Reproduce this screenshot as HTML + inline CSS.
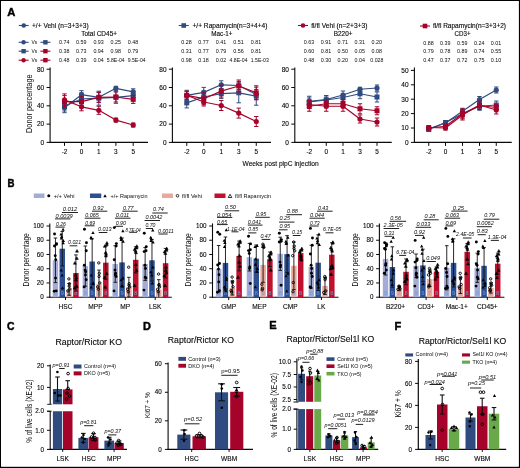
<!DOCTYPE html>
<html><head><meta charset="utf-8"><style>
html,body{margin:0;padding:0;background:#fff;overflow:hidden;width:520px;height:468px;}
svg{display:block;will-change:transform;}
text{font-family:"Liberation Sans", sans-serif;stroke-width:0.12px;}
</style></head><body>
<svg width="520" height="468" viewBox="0 0 520 468" font-family='"Liberation Sans", sans-serif' fill="#0a0a0a">
<rect x="0" y="0" width="520" height="468" fill="#fff"/>
<rect x="0" y="0" width="520" height="1" fill="#000" />
<rect x="0" y="0" width="1" height="468" fill="#000" />
<rect x="518.9" y="0" width="1.1" height="468" fill="#000" />
<rect x="0" y="466.8" width="520" height="1.2" fill="#000" />
<text x="7.3" y="16.2" font-size="11.5" textLength="8.1" lengthAdjust="spacingAndGlyphs" font-weight="bold" fill="#000" stroke="#000" style="stroke-width:0.45px">A</text>
<text x="7.5" y="187" font-size="11.5" textLength="7" lengthAdjust="spacingAndGlyphs" font-weight="bold" fill="#000" stroke="#000" style="stroke-width:0.45px">B</text>
<text x="7" y="329.5" font-size="11.5" textLength="7.5" lengthAdjust="spacingAndGlyphs" font-weight="bold" fill="#000" stroke="#000" style="stroke-width:0.45px">C</text>
<text x="143" y="329.8" font-size="11.5" textLength="7.9" lengthAdjust="spacingAndGlyphs" font-weight="bold" fill="#000" stroke="#000" style="stroke-width:0.45px">D</text>
<text x="269.2" y="329.3" font-size="11.5" textLength="7.4" lengthAdjust="spacingAndGlyphs" font-weight="bold" fill="#000" stroke="#000" style="stroke-width:0.45px">E</text>
<text x="394.5" y="329.5" font-size="11.5" textLength="6.75" lengthAdjust="spacingAndGlyphs" font-weight="bold" fill="#000" stroke="#000" style="stroke-width:0.45px">F</text>
<line x1="18.75" y1="25.5" x2="28.75" y2="25.5" stroke="#2f4b80" stroke-width="1.1" />
<circle cx="23.75" cy="25.5" r="2.3" fill="#2f4b80" stroke="none" stroke-width="0"/>
<text x="32" y="27.6" font-size="6.3" textLength="56.75" lengthAdjust="spacingAndGlyphs" stroke="#0a0a0a" >+/+ Vehi (n=3+3+3)</text>
<line x1="178.75" y1="25.5" x2="188.75" y2="25.5" stroke="#2f4b80" stroke-width="1.1" />
<rect x="181.45" y="23.2" width="4.6" height="4.6" fill="#2f4b80" />
<text x="192.5" y="27.6" font-size="6.3" textLength="75" lengthAdjust="spacingAndGlyphs" stroke="#0a0a0a" >+/+ Rapamycin(n=3+4+4)</text>
<line x1="298" y1="25.5" x2="308" y2="25.5" stroke="#a6032b" stroke-width="1.1" />
<circle cx="303" cy="25.5" r="2.3" fill="#a6032b" stroke="none" stroke-width="0"/>
<text x="311.25" y="27.6" font-size="6.3" textLength="56.25" lengthAdjust="spacingAndGlyphs" stroke="#0a0a0a" >fl/fl Vehi (n=2+3+3)</text>
<line x1="420" y1="26" x2="430" y2="26" stroke="#a6032b" stroke-width="1.1" />
<rect x="422.7" y="23.7" width="4.6" height="4.6" fill="#a6032b" />
<text x="433" y="28.1" font-size="6.3" textLength="73" lengthAdjust="spacingAndGlyphs" stroke="#0a0a0a" >fl/fl Rapamycin(n=3+3+2)</text>
<text x="81.25" y="35.5" font-size="6.3" textLength="35.75" lengthAdjust="spacingAndGlyphs" stroke="#0a0a0a" >Total CD45+</text>
<text x="211.25" y="35.5" font-size="6.3" textLength="21.25" lengthAdjust="spacingAndGlyphs" stroke="#0a0a0a" >Mac-1+</text>
<text x="333.75" y="35.5" font-size="6.3" textLength="18.75" lengthAdjust="spacingAndGlyphs" stroke="#0a0a0a" >B220+</text>
<text x="454.5" y="35.5" font-size="6.3" textLength="16" lengthAdjust="spacingAndGlyphs" stroke="#0a0a0a" >CD3+</text>
<line x1="18.6" y1="42.3" x2="28.6" y2="42.3" stroke="#2f4b80" stroke-width="1.1" />
<circle cx="23.6" cy="42.3" r="2.2" fill="#2f4b80" stroke="none" stroke-width="0"/>
<text x="31.5" y="44.3" font-size="6" textLength="5.8" lengthAdjust="spacingAndGlyphs" >Vs</text>
<line x1="40.4" y1="42.3" x2="50.4" y2="42.3" stroke="#2f4b80" stroke-width="1.1" />
<rect x="43.2" y="40.1" width="4.4" height="4.4" fill="#2f4b80" />
<line x1="18.6" y1="51.2" x2="28.6" y2="51.2" stroke="#2f4b80" stroke-width="1.1" />
<rect x="21.4" y="49" width="4.4" height="4.4" fill="#2f4b80" />
<text x="31.5" y="53.2" font-size="6" textLength="5.8" lengthAdjust="spacingAndGlyphs" >Vs</text>
<line x1="40.4" y1="51.2" x2="50.4" y2="51.2" stroke="#a6032b" stroke-width="1.1" />
<rect x="43.2" y="49" width="4.4" height="4.4" fill="#a6032b" />
<line x1="18.6" y1="60.2" x2="28.6" y2="60.2" stroke="#a6032b" stroke-width="1.1" />
<circle cx="23.6" cy="60.2" r="2.2" fill="#a6032b" stroke="none" stroke-width="0"/>
<text x="31.5" y="62.2" font-size="6" textLength="5.8" lengthAdjust="spacingAndGlyphs" >Vs</text>
<line x1="40.4" y1="60.2" x2="50.4" y2="60.2" stroke="#a6032b" stroke-width="1.1" />
<rect x="43.2" y="58" width="4.4" height="4.4" fill="#a6032b" />
<text x="59.1" y="44" font-size="5.9" textLength="10.4" lengthAdjust="spacingAndGlyphs" >0.74</text>
<text x="76.1" y="44" font-size="5.9" textLength="10.4" lengthAdjust="spacingAndGlyphs" >0.59</text>
<text x="93.4" y="44" font-size="5.9" textLength="10.4" lengthAdjust="spacingAndGlyphs" >0.93</text>
<text x="110.5" y="44" font-size="5.9" textLength="10.4" lengthAdjust="spacingAndGlyphs" >0.25</text>
<text x="127.8" y="44" font-size="5.9" textLength="10.4" lengthAdjust="spacingAndGlyphs" >0.48</text>
<text x="59.1" y="52.8" font-size="5.9" textLength="10.4" lengthAdjust="spacingAndGlyphs" >0.38</text>
<text x="76.1" y="52.8" font-size="5.9" textLength="10.4" lengthAdjust="spacingAndGlyphs" >0.73</text>
<text x="93.4" y="52.8" font-size="5.9" textLength="10.4" lengthAdjust="spacingAndGlyphs" >0.94</text>
<text x="110.5" y="52.8" font-size="5.9" textLength="10.4" lengthAdjust="spacingAndGlyphs" >0.98</text>
<text x="127.8" y="52.8" font-size="5.9" textLength="10.4" lengthAdjust="spacingAndGlyphs" >0.79</text>
<text x="59.1" y="61.7" font-size="5.9" textLength="10.4" lengthAdjust="spacingAndGlyphs" >0.48</text>
<text x="76.1" y="61.7" font-size="5.9" textLength="10.4" lengthAdjust="spacingAndGlyphs" >0.39</text>
<text x="93.4" y="61.7" font-size="5.9" textLength="10.4" lengthAdjust="spacingAndGlyphs" >0.04</text>
<text x="106.7" y="61.7" font-size="5.9" textLength="18" lengthAdjust="spacingAndGlyphs" >5.8E-04</text>
<text x="127.7" y="61.7" font-size="5.9" textLength="18" lengthAdjust="spacingAndGlyphs" >9.5E-04</text>
<text x="181.35" y="43.9" font-size="5.9" textLength="10.4" lengthAdjust="spacingAndGlyphs" >0.28</text>
<text x="198.35" y="43.9" font-size="5.9" textLength="10.4" lengthAdjust="spacingAndGlyphs" >0.77</text>
<text x="215.85" y="43.9" font-size="5.9" textLength="10.4" lengthAdjust="spacingAndGlyphs" >0.41</text>
<text x="233.35" y="43.9" font-size="5.9" textLength="10.4" lengthAdjust="spacingAndGlyphs" >0.51</text>
<text x="250.85" y="43.9" font-size="5.9" textLength="10.4" lengthAdjust="spacingAndGlyphs" >0.81</text>
<text x="181.35" y="52.7" font-size="5.9" textLength="10.4" lengthAdjust="spacingAndGlyphs" >0.31</text>
<text x="198.35" y="52.7" font-size="5.9" textLength="10.4" lengthAdjust="spacingAndGlyphs" >0.77</text>
<text x="215.85" y="52.7" font-size="5.9" textLength="10.4" lengthAdjust="spacingAndGlyphs" >0.79</text>
<text x="233.35" y="52.7" font-size="5.9" textLength="10.4" lengthAdjust="spacingAndGlyphs" >0.56</text>
<text x="250.85" y="52.7" font-size="5.9" textLength="10.4" lengthAdjust="spacingAndGlyphs" >0.81</text>
<text x="181.35" y="61.6" font-size="5.9" textLength="10.4" lengthAdjust="spacingAndGlyphs" >0.98</text>
<text x="198.35" y="61.6" font-size="5.9" textLength="10.4" lengthAdjust="spacingAndGlyphs" >0.18</text>
<text x="215.85" y="61.6" font-size="5.9" textLength="10.4" lengthAdjust="spacingAndGlyphs" >0.02</text>
<text x="229.55" y="61.6" font-size="5.9" textLength="18" lengthAdjust="spacingAndGlyphs" >4.8E-04</text>
<text x="250.75" y="61.6" font-size="5.9" textLength="18" lengthAdjust="spacingAndGlyphs" >1.5E-03</text>
<text x="303.85" y="44.3" font-size="5.9" textLength="10.4" lengthAdjust="spacingAndGlyphs" >0.63</text>
<text x="320.85" y="44.3" font-size="5.9" textLength="10.4" lengthAdjust="spacingAndGlyphs" >0.91</text>
<text x="337.6" y="44.3" font-size="5.9" textLength="10.4" lengthAdjust="spacingAndGlyphs" >0.71</text>
<text x="354.6" y="44.3" font-size="5.9" textLength="10.4" lengthAdjust="spacingAndGlyphs" >0.31</text>
<text x="371.6" y="44.3" font-size="5.9" textLength="10.4" lengthAdjust="spacingAndGlyphs" >0.20</text>
<text x="303.85" y="53.1" font-size="5.9" textLength="10.4" lengthAdjust="spacingAndGlyphs" >0.60</text>
<text x="320.85" y="53.1" font-size="5.9" textLength="10.4" lengthAdjust="spacingAndGlyphs" >0.81</text>
<text x="337.6" y="53.1" font-size="5.9" textLength="10.4" lengthAdjust="spacingAndGlyphs" >0.50</text>
<text x="354.6" y="53.1" font-size="5.9" textLength="10.4" lengthAdjust="spacingAndGlyphs" >0.05</text>
<text x="371.6" y="53.1" font-size="5.9" textLength="10.4" lengthAdjust="spacingAndGlyphs" >0.08</text>
<text x="303.85" y="62" font-size="5.9" textLength="10.4" lengthAdjust="spacingAndGlyphs" >0.48</text>
<text x="320.85" y="62" font-size="5.9" textLength="10.4" lengthAdjust="spacingAndGlyphs" >0.30</text>
<text x="337.6" y="62" font-size="5.9" textLength="10.4" lengthAdjust="spacingAndGlyphs" >0.20</text>
<text x="354.6" y="62" font-size="5.9" textLength="10.4" lengthAdjust="spacingAndGlyphs" >0.04</text>
<text x="370.3" y="62" font-size="5.9" textLength="13" lengthAdjust="spacingAndGlyphs" >0.028</text>
<text x="423.35" y="44.5" font-size="5.9" textLength="10.4" lengthAdjust="spacingAndGlyphs" >0.88</text>
<text x="440.1" y="44.5" font-size="5.9" textLength="10.4" lengthAdjust="spacingAndGlyphs" >0.39</text>
<text x="457.1" y="44.5" font-size="5.9" textLength="10.4" lengthAdjust="spacingAndGlyphs" >0.59</text>
<text x="474.1" y="44.5" font-size="5.9" textLength="10.4" lengthAdjust="spacingAndGlyphs" >0.24</text>
<text x="490.85" y="44.5" font-size="5.9" textLength="10.4" lengthAdjust="spacingAndGlyphs" >0.01</text>
<text x="423.35" y="53.3" font-size="5.9" textLength="10.4" lengthAdjust="spacingAndGlyphs" >0.79</text>
<text x="440.1" y="53.3" font-size="5.9" textLength="10.4" lengthAdjust="spacingAndGlyphs" >0.78</text>
<text x="457.1" y="53.3" font-size="5.9" textLength="10.4" lengthAdjust="spacingAndGlyphs" >0.89</text>
<text x="474.1" y="53.3" font-size="5.9" textLength="10.4" lengthAdjust="spacingAndGlyphs" >0.74</text>
<text x="490.85" y="53.3" font-size="5.9" textLength="10.4" lengthAdjust="spacingAndGlyphs" >0.55</text>
<text x="423.35" y="62.2" font-size="5.9" textLength="10.4" lengthAdjust="spacingAndGlyphs" >0.47</text>
<text x="440.1" y="62.2" font-size="5.9" textLength="10.4" lengthAdjust="spacingAndGlyphs" >0.37</text>
<text x="457.1" y="62.2" font-size="5.9" textLength="10.4" lengthAdjust="spacingAndGlyphs" >0.72</text>
<text x="474.1" y="62.2" font-size="5.9" textLength="10.4" lengthAdjust="spacingAndGlyphs" >0.75</text>
<text x="490.85" y="62.2" font-size="5.9" textLength="10.4" lengthAdjust="spacingAndGlyphs" >0.10</text>
<line x1="50.1" y1="67.5" x2="50.1" y2="143" stroke="#0a0a0a" stroke-width="1.1" />
<line x1="49.55" y1="142.4" x2="148" y2="142.4" stroke="#0a0a0a" stroke-width="1.1" />
<line x1="46.6" y1="142.4" x2="50.1" y2="142.4" stroke="#0a0a0a" stroke-width="1" />
<text x="44.2" y="144.7" font-size="6.5" text-anchor="end" stroke="#0a0a0a" >0</text>
<line x1="46.6" y1="124.1" x2="50.1" y2="124.1" stroke="#0a0a0a" stroke-width="1" />
<text x="44.2" y="126.4" font-size="6.5" text-anchor="end" stroke="#0a0a0a" >20</text>
<line x1="46.6" y1="105.8" x2="50.1" y2="105.8" stroke="#0a0a0a" stroke-width="1" />
<text x="44.2" y="108.1" font-size="6.5" text-anchor="end" stroke="#0a0a0a" >40</text>
<line x1="46.6" y1="87.5" x2="50.1" y2="87.5" stroke="#0a0a0a" stroke-width="1" />
<text x="44.2" y="89.8" font-size="6.5" text-anchor="end" stroke="#0a0a0a" >60</text>
<line x1="46.6" y1="69.2" x2="50.1" y2="69.2" stroke="#0a0a0a" stroke-width="1" />
<text x="44.2" y="71.5" font-size="6.5" text-anchor="end" stroke="#0a0a0a" >80</text>
<line x1="64.5" y1="142.4" x2="64.5" y2="145.9" stroke="#0a0a0a" stroke-width="1" />
<text x="64.5" y="154" font-size="6.4" text-anchor="middle" stroke="#0a0a0a" >-2</text>
<line x1="81.5" y1="142.4" x2="81.5" y2="145.9" stroke="#0a0a0a" stroke-width="1" />
<text x="81.5" y="154" font-size="6.4" text-anchor="middle" stroke="#0a0a0a" >0</text>
<line x1="98.8" y1="142.4" x2="98.8" y2="145.9" stroke="#0a0a0a" stroke-width="1" />
<text x="98.8" y="154" font-size="6.4" text-anchor="middle" stroke="#0a0a0a" >1</text>
<line x1="115.9" y1="142.4" x2="115.9" y2="145.9" stroke="#0a0a0a" stroke-width="1" />
<text x="115.9" y="154" font-size="6.4" text-anchor="middle" stroke="#0a0a0a" >3</text>
<line x1="133.2" y1="142.4" x2="133.2" y2="145.9" stroke="#0a0a0a" stroke-width="1" />
<text x="133.2" y="154" font-size="6.4" text-anchor="middle" stroke="#0a0a0a" >5</text>
<line x1="172.4" y1="67.5" x2="172.4" y2="143" stroke="#0a0a0a" stroke-width="1.1" />
<line x1="171.85" y1="142.4" x2="271" y2="142.4" stroke="#0a0a0a" stroke-width="1.1" />
<line x1="168.9" y1="142.4" x2="172.4" y2="142.4" stroke="#0a0a0a" stroke-width="1" />
<text x="166.5" y="144.7" font-size="6.5" text-anchor="end" stroke="#0a0a0a" >0</text>
<line x1="168.9" y1="124.1" x2="172.4" y2="124.1" stroke="#0a0a0a" stroke-width="1" />
<text x="166.5" y="126.4" font-size="6.5" text-anchor="end" stroke="#0a0a0a" >20</text>
<line x1="168.9" y1="105.8" x2="172.4" y2="105.8" stroke="#0a0a0a" stroke-width="1" />
<text x="166.5" y="108.1" font-size="6.5" text-anchor="end" stroke="#0a0a0a" >40</text>
<line x1="168.9" y1="87.5" x2="172.4" y2="87.5" stroke="#0a0a0a" stroke-width="1" />
<text x="166.5" y="89.8" font-size="6.5" text-anchor="end" stroke="#0a0a0a" >60</text>
<line x1="168.9" y1="69.2" x2="172.4" y2="69.2" stroke="#0a0a0a" stroke-width="1" />
<text x="166.5" y="71.5" font-size="6.5" text-anchor="end" stroke="#0a0a0a" >80</text>
<line x1="186.75" y1="142.4" x2="186.75" y2="145.9" stroke="#0a0a0a" stroke-width="1" />
<text x="186.75" y="154" font-size="6.4" text-anchor="middle" stroke="#0a0a0a" >-2</text>
<line x1="203.75" y1="142.4" x2="203.75" y2="145.9" stroke="#0a0a0a" stroke-width="1" />
<text x="203.75" y="154" font-size="6.4" text-anchor="middle" stroke="#0a0a0a" >0</text>
<line x1="221.25" y1="142.4" x2="221.25" y2="145.9" stroke="#0a0a0a" stroke-width="1" />
<text x="221.25" y="154" font-size="6.4" text-anchor="middle" stroke="#0a0a0a" >1</text>
<line x1="238.75" y1="142.4" x2="238.75" y2="145.9" stroke="#0a0a0a" stroke-width="1" />
<text x="238.75" y="154" font-size="6.4" text-anchor="middle" stroke="#0a0a0a" >3</text>
<line x1="256.25" y1="142.4" x2="256.25" y2="145.9" stroke="#0a0a0a" stroke-width="1" />
<text x="256.25" y="154" font-size="6.4" text-anchor="middle" stroke="#0a0a0a" >5</text>
<line x1="294.8" y1="67.5" x2="294.8" y2="143" stroke="#0a0a0a" stroke-width="1.1" />
<line x1="294.25" y1="142.4" x2="391.75" y2="142.4" stroke="#0a0a0a" stroke-width="1.1" />
<line x1="291.3" y1="142.4" x2="294.8" y2="142.4" stroke="#0a0a0a" stroke-width="1" />
<text x="288.9" y="144.7" font-size="6.5" text-anchor="end" stroke="#0a0a0a" >0</text>
<line x1="291.3" y1="124.1" x2="294.8" y2="124.1" stroke="#0a0a0a" stroke-width="1" />
<text x="288.9" y="126.4" font-size="6.5" text-anchor="end" stroke="#0a0a0a" >20</text>
<line x1="291.3" y1="105.8" x2="294.8" y2="105.8" stroke="#0a0a0a" stroke-width="1" />
<text x="288.9" y="108.1" font-size="6.5" text-anchor="end" stroke="#0a0a0a" >40</text>
<line x1="291.3" y1="87.5" x2="294.8" y2="87.5" stroke="#0a0a0a" stroke-width="1" />
<text x="288.9" y="89.8" font-size="6.5" text-anchor="end" stroke="#0a0a0a" >60</text>
<line x1="291.3" y1="69.2" x2="294.8" y2="69.2" stroke="#0a0a0a" stroke-width="1" />
<text x="288.9" y="71.5" font-size="6.5" text-anchor="end" stroke="#0a0a0a" >80</text>
<line x1="309.25" y1="142.4" x2="309.25" y2="145.9" stroke="#0a0a0a" stroke-width="1" />
<text x="309.25" y="154" font-size="6.4" text-anchor="middle" stroke="#0a0a0a" >-2</text>
<line x1="326.25" y1="142.4" x2="326.25" y2="145.9" stroke="#0a0a0a" stroke-width="1" />
<text x="326.25" y="154" font-size="6.4" text-anchor="middle" stroke="#0a0a0a" >0</text>
<line x1="343" y1="142.4" x2="343" y2="145.9" stroke="#0a0a0a" stroke-width="1" />
<text x="343" y="154" font-size="6.4" text-anchor="middle" stroke="#0a0a0a" >1</text>
<line x1="360" y1="142.4" x2="360" y2="145.9" stroke="#0a0a0a" stroke-width="1" />
<text x="360" y="154" font-size="6.4" text-anchor="middle" stroke="#0a0a0a" >3</text>
<line x1="377" y1="142.4" x2="377" y2="145.9" stroke="#0a0a0a" stroke-width="1" />
<text x="377" y="154" font-size="6.4" text-anchor="middle" stroke="#0a0a0a" >5</text>
<line x1="414.4" y1="67.5" x2="414.4" y2="143" stroke="#0a0a0a" stroke-width="1.1" />
<line x1="413.85" y1="142.4" x2="511.75" y2="142.4" stroke="#0a0a0a" stroke-width="1.1" />
<line x1="410.9" y1="142.4" x2="414.4" y2="142.4" stroke="#0a0a0a" stroke-width="1" />
<text x="408.5" y="144.7" font-size="6.5" text-anchor="end" stroke="#0a0a0a" >0</text>
<line x1="410.9" y1="128" x2="414.4" y2="128" stroke="#0a0a0a" stroke-width="1" />
<text x="408.5" y="130.3" font-size="6.5" text-anchor="end" stroke="#0a0a0a" >10</text>
<line x1="410.9" y1="113.6" x2="414.4" y2="113.6" stroke="#0a0a0a" stroke-width="1" />
<text x="408.5" y="115.9" font-size="6.5" text-anchor="end" stroke="#0a0a0a" >20</text>
<line x1="410.9" y1="99.2" x2="414.4" y2="99.2" stroke="#0a0a0a" stroke-width="1" />
<text x="408.5" y="101.5" font-size="6.5" text-anchor="end" stroke="#0a0a0a" >30</text>
<line x1="410.9" y1="84.8" x2="414.4" y2="84.8" stroke="#0a0a0a" stroke-width="1" />
<text x="408.5" y="87.1" font-size="6.5" text-anchor="end" stroke="#0a0a0a" >40</text>
<line x1="410.9" y1="70.4" x2="414.4" y2="70.4" stroke="#0a0a0a" stroke-width="1" />
<text x="408.5" y="72.7" font-size="6.5" text-anchor="end" stroke="#0a0a0a" >50</text>
<line x1="428.75" y1="142.4" x2="428.75" y2="145.9" stroke="#0a0a0a" stroke-width="1" />
<text x="428.75" y="154" font-size="6.4" text-anchor="middle" stroke="#0a0a0a" >-2</text>
<line x1="445.5" y1="142.4" x2="445.5" y2="145.9" stroke="#0a0a0a" stroke-width="1" />
<text x="445.5" y="154" font-size="6.4" text-anchor="middle" stroke="#0a0a0a" >0</text>
<line x1="462.5" y1="142.4" x2="462.5" y2="145.9" stroke="#0a0a0a" stroke-width="1" />
<text x="462.5" y="154" font-size="6.4" text-anchor="middle" stroke="#0a0a0a" >1</text>
<line x1="479.5" y1="142.4" x2="479.5" y2="145.9" stroke="#0a0a0a" stroke-width="1" />
<text x="479.5" y="154" font-size="6.4" text-anchor="middle" stroke="#0a0a0a" >3</text>
<line x1="496.25" y1="142.4" x2="496.25" y2="145.9" stroke="#0a0a0a" stroke-width="1" />
<text x="496.25" y="154" font-size="6.4" text-anchor="middle" stroke="#0a0a0a" >5</text>
<text x="31.8" y="103.7" font-size="8.6" text-anchor="middle" textLength="58.4" lengthAdjust="spacingAndGlyphs" transform="rotate(-90 31.8 103.7)" >Donor percentage</text>
<text x="242.5" y="165.7" font-size="7.8" textLength="76.25" lengthAdjust="spacingAndGlyphs" stroke="#0a0a0a" >Weeks post plpC injection</text>
<line x1="64.5" y1="101" x2="64.5" y2="111" stroke="#2f4b80" stroke-width="1" />
<line x1="62.3" y1="101" x2="66.7" y2="101" stroke="#2f4b80" stroke-width="1" />
<line x1="62.3" y1="111" x2="66.7" y2="111" stroke="#2f4b80" stroke-width="1" />
<line x1="81.5" y1="93" x2="81.5" y2="105" stroke="#2f4b80" stroke-width="1" />
<line x1="79.3" y1="93" x2="83.7" y2="93" stroke="#2f4b80" stroke-width="1" />
<line x1="79.3" y1="105" x2="83.7" y2="105" stroke="#2f4b80" stroke-width="1" />
<line x1="98.8" y1="91.2" x2="98.8" y2="105.2" stroke="#2f4b80" stroke-width="1" />
<line x1="96.6" y1="91.2" x2="101" y2="91.2" stroke="#2f4b80" stroke-width="1" />
<line x1="96.6" y1="105.2" x2="101" y2="105.2" stroke="#2f4b80" stroke-width="1" />
<line x1="115.9" y1="91.3" x2="115.9" y2="103.3" stroke="#2f4b80" stroke-width="1" />
<line x1="113.7" y1="91.3" x2="118.1" y2="91.3" stroke="#2f4b80" stroke-width="1" />
<line x1="113.7" y1="103.3" x2="118.1" y2="103.3" stroke="#2f4b80" stroke-width="1" />
<line x1="133.2" y1="91.6" x2="133.2" y2="99.6" stroke="#2f4b80" stroke-width="1" />
<line x1="131" y1="91.6" x2="135.4" y2="91.6" stroke="#2f4b80" stroke-width="1" />
<line x1="131" y1="99.6" x2="135.4" y2="99.6" stroke="#2f4b80" stroke-width="1" />
<polyline points="64.5,106 81.5,99 98.8,98.2 115.9,97.3 133.2,95.6" fill="none" stroke="#2f4b80" stroke-width="1.2" stroke-linejoin="round"/>
<rect x="62" y="103.5" width="5" height="5" fill="#2f4b80" />
<rect x="79" y="96.5" width="5" height="5" fill="#2f4b80" />
<rect x="96.3" y="95.7" width="5" height="5" fill="#2f4b80" />
<rect x="113.4" y="94.8" width="5" height="5" fill="#2f4b80" />
<rect x="130.7" y="93.1" width="5" height="5" fill="#2f4b80" />
<line x1="64.5" y1="102.7" x2="64.5" y2="112.7" stroke="#2f4b80" stroke-width="1" />
<line x1="62.3" y1="102.7" x2="66.7" y2="102.7" stroke="#2f4b80" stroke-width="1" />
<line x1="62.3" y1="112.7" x2="66.7" y2="112.7" stroke="#2f4b80" stroke-width="1" />
<line x1="81.5" y1="90.7" x2="81.5" y2="98.7" stroke="#2f4b80" stroke-width="1" />
<line x1="79.3" y1="90.7" x2="83.7" y2="90.7" stroke="#2f4b80" stroke-width="1" />
<line x1="79.3" y1="98.7" x2="83.7" y2="98.7" stroke="#2f4b80" stroke-width="1" />
<line x1="98.8" y1="92.3" x2="98.8" y2="102.3" stroke="#2f4b80" stroke-width="1" />
<line x1="96.6" y1="92.3" x2="101" y2="92.3" stroke="#2f4b80" stroke-width="1" />
<line x1="96.6" y1="102.3" x2="101" y2="102.3" stroke="#2f4b80" stroke-width="1" />
<line x1="115.9" y1="86.3" x2="115.9" y2="90.3" stroke="#2f4b80" stroke-width="1" />
<line x1="113.7" y1="86.3" x2="118.1" y2="86.3" stroke="#2f4b80" stroke-width="1" />
<line x1="113.7" y1="90.3" x2="118.1" y2="90.3" stroke="#2f4b80" stroke-width="1" />
<line x1="133.2" y1="88.8" x2="133.2" y2="94.8" stroke="#2f4b80" stroke-width="1" />
<line x1="131" y1="88.8" x2="135.4" y2="88.8" stroke="#2f4b80" stroke-width="1" />
<line x1="131" y1="94.8" x2="135.4" y2="94.8" stroke="#2f4b80" stroke-width="1" />
<polyline points="64.5,107.7 81.5,94.7 98.8,97.3 115.9,88.3 133.2,91.8" fill="none" stroke="#2f4b80" stroke-width="1.2" stroke-linejoin="round"/>
<circle cx="64.5" cy="107.7" r="2.6" fill="#2f4b80" stroke="none" stroke-width="0"/>
<circle cx="81.5" cy="94.7" r="2.6" fill="#2f4b80" stroke="none" stroke-width="0"/>
<circle cx="98.8" cy="97.3" r="2.6" fill="#2f4b80" stroke="none" stroke-width="0"/>
<circle cx="115.9" cy="88.3" r="2.6" fill="#2f4b80" stroke="none" stroke-width="0"/>
<circle cx="133.2" cy="91.8" r="2.6" fill="#2f4b80" stroke="none" stroke-width="0"/>
<line x1="64.5" y1="95.6" x2="64.5" y2="107.6" stroke="#a6032b" stroke-width="1" />
<line x1="62.3" y1="95.6" x2="66.7" y2="95.6" stroke="#a6032b" stroke-width="1" />
<line x1="62.3" y1="107.6" x2="66.7" y2="107.6" stroke="#a6032b" stroke-width="1" />
<line x1="81.5" y1="96.6" x2="81.5" y2="106.6" stroke="#a6032b" stroke-width="1" />
<line x1="79.3" y1="96.6" x2="83.7" y2="96.6" stroke="#a6032b" stroke-width="1" />
<line x1="79.3" y1="106.6" x2="83.7" y2="106.6" stroke="#a6032b" stroke-width="1" />
<line x1="98.8" y1="92.3" x2="98.8" y2="102.3" stroke="#a6032b" stroke-width="1" />
<line x1="96.6" y1="92.3" x2="101" y2="92.3" stroke="#a6032b" stroke-width="1" />
<line x1="96.6" y1="102.3" x2="101" y2="102.3" stroke="#a6032b" stroke-width="1" />
<line x1="115.9" y1="92" x2="115.9" y2="102" stroke="#a6032b" stroke-width="1" />
<line x1="113.7" y1="92" x2="118.1" y2="92" stroke="#a6032b" stroke-width="1" />
<line x1="113.7" y1="102" x2="118.1" y2="102" stroke="#a6032b" stroke-width="1" />
<line x1="133.2" y1="95.4" x2="133.2" y2="103.4" stroke="#a6032b" stroke-width="1" />
<line x1="131" y1="95.4" x2="135.4" y2="95.4" stroke="#a6032b" stroke-width="1" />
<line x1="131" y1="103.4" x2="135.4" y2="103.4" stroke="#a6032b" stroke-width="1" />
<polyline points="64.5,101.6 81.5,101.6 98.8,97.3 115.9,97 133.2,99.4" fill="none" stroke="#a6032b" stroke-width="1.2" stroke-linejoin="round"/>
<rect x="62" y="99.1" width="5" height="5" fill="#a6032b" />
<rect x="79" y="99.1" width="5" height="5" fill="#a6032b" />
<rect x="96.3" y="94.8" width="5" height="5" fill="#a6032b" />
<rect x="113.4" y="94.5" width="5" height="5" fill="#a6032b" />
<rect x="130.7" y="96.9" width="5" height="5" fill="#a6032b" />
<line x1="64.5" y1="93.9" x2="64.5" y2="105.9" stroke="#a6032b" stroke-width="1" />
<line x1="62.3" y1="93.9" x2="66.7" y2="93.9" stroke="#a6032b" stroke-width="1" />
<line x1="62.3" y1="105.9" x2="66.7" y2="105.9" stroke="#a6032b" stroke-width="1" />
<line x1="81.5" y1="102.8" x2="81.5" y2="110.8" stroke="#a6032b" stroke-width="1" />
<line x1="79.3" y1="102.8" x2="83.7" y2="102.8" stroke="#a6032b" stroke-width="1" />
<line x1="79.3" y1="110.8" x2="83.7" y2="110.8" stroke="#a6032b" stroke-width="1" />
<line x1="98.8" y1="106.3" x2="98.8" y2="114.3" stroke="#a6032b" stroke-width="1" />
<line x1="96.6" y1="106.3" x2="101" y2="106.3" stroke="#a6032b" stroke-width="1" />
<line x1="96.6" y1="114.3" x2="101" y2="114.3" stroke="#a6032b" stroke-width="1" />
<line x1="115.9" y1="118.1" x2="115.9" y2="122.1" stroke="#a6032b" stroke-width="1" />
<line x1="113.7" y1="118.1" x2="118.1" y2="118.1" stroke="#a6032b" stroke-width="1" />
<line x1="113.7" y1="122.1" x2="118.1" y2="122.1" stroke="#a6032b" stroke-width="1" />
<line x1="133.2" y1="123" x2="133.2" y2="127" stroke="#a6032b" stroke-width="1" />
<line x1="131" y1="123" x2="135.4" y2="123" stroke="#a6032b" stroke-width="1" />
<line x1="131" y1="127" x2="135.4" y2="127" stroke="#a6032b" stroke-width="1" />
<polyline points="64.5,99.9 81.5,106.8 98.8,110.3 115.9,120.1 133.2,125" fill="none" stroke="#a6032b" stroke-width="1.2" stroke-linejoin="round"/>
<circle cx="64.5" cy="99.9" r="2.6" fill="#a6032b" stroke="none" stroke-width="0"/>
<circle cx="81.5" cy="106.8" r="2.6" fill="#a6032b" stroke="none" stroke-width="0"/>
<circle cx="98.8" cy="110.3" r="2.6" fill="#a6032b" stroke="none" stroke-width="0"/>
<circle cx="115.9" cy="120.1" r="2.6" fill="#a6032b" stroke="none" stroke-width="0"/>
<circle cx="133.2" cy="125" r="2.6" fill="#a6032b" stroke="none" stroke-width="0"/>
<line x1="186.75" y1="97.9" x2="186.75" y2="107.9" stroke="#2f4b80" stroke-width="1" />
<line x1="184.55" y1="97.9" x2="188.95" y2="97.9" stroke="#2f4b80" stroke-width="1" />
<line x1="184.55" y1="107.9" x2="188.95" y2="107.9" stroke="#2f4b80" stroke-width="1" />
<line x1="203.75" y1="91" x2="203.75" y2="103" stroke="#2f4b80" stroke-width="1" />
<line x1="201.55" y1="91" x2="205.95" y2="91" stroke="#2f4b80" stroke-width="1" />
<line x1="201.55" y1="103" x2="205.95" y2="103" stroke="#2f4b80" stroke-width="1" />
<line x1="221.25" y1="88.6" x2="221.25" y2="98.6" stroke="#2f4b80" stroke-width="1" />
<line x1="219.05" y1="88.6" x2="223.45" y2="88.6" stroke="#2f4b80" stroke-width="1" />
<line x1="219.05" y1="98.6" x2="223.45" y2="98.6" stroke="#2f4b80" stroke-width="1" />
<line x1="238.75" y1="82.8" x2="238.75" y2="102.8" stroke="#2f4b80" stroke-width="1" />
<line x1="236.55" y1="82.8" x2="240.95" y2="82.8" stroke="#2f4b80" stroke-width="1" />
<line x1="236.55" y1="102.8" x2="240.95" y2="102.8" stroke="#2f4b80" stroke-width="1" />
<line x1="256.25" y1="87.2" x2="256.25" y2="105.2" stroke="#2f4b80" stroke-width="1" />
<line x1="254.05" y1="87.2" x2="258.45" y2="87.2" stroke="#2f4b80" stroke-width="1" />
<line x1="254.05" y1="105.2" x2="258.45" y2="105.2" stroke="#2f4b80" stroke-width="1" />
<polyline points="186.75,102.9 203.75,97 221.25,93.6 238.75,92.8 256.25,96.2" fill="none" stroke="#2f4b80" stroke-width="1.2" stroke-linejoin="round"/>
<rect x="184.25" y="100.4" width="5" height="5" fill="#2f4b80" />
<rect x="201.25" y="94.5" width="5" height="5" fill="#2f4b80" />
<rect x="218.75" y="91.1" width="5" height="5" fill="#2f4b80" />
<rect x="236.25" y="90.3" width="5" height="5" fill="#2f4b80" />
<rect x="253.75" y="93.7" width="5" height="5" fill="#2f4b80" />
<line x1="186.75" y1="90.3" x2="186.75" y2="100.3" stroke="#2f4b80" stroke-width="1" />
<line x1="184.55" y1="90.3" x2="188.95" y2="90.3" stroke="#2f4b80" stroke-width="1" />
<line x1="184.55" y1="100.3" x2="188.95" y2="100.3" stroke="#2f4b80" stroke-width="1" />
<line x1="203.75" y1="87.4" x2="203.75" y2="97.4" stroke="#2f4b80" stroke-width="1" />
<line x1="201.55" y1="87.4" x2="205.95" y2="87.4" stroke="#2f4b80" stroke-width="1" />
<line x1="201.55" y1="97.4" x2="205.95" y2="97.4" stroke="#2f4b80" stroke-width="1" />
<line x1="221.25" y1="80.8" x2="221.25" y2="88.8" stroke="#2f4b80" stroke-width="1" />
<line x1="219.05" y1="80.8" x2="223.45" y2="80.8" stroke="#2f4b80" stroke-width="1" />
<line x1="219.05" y1="88.8" x2="223.45" y2="88.8" stroke="#2f4b80" stroke-width="1" />
<line x1="238.75" y1="81.5" x2="238.75" y2="89.5" stroke="#2f4b80" stroke-width="1" />
<line x1="236.55" y1="81.5" x2="240.95" y2="81.5" stroke="#2f4b80" stroke-width="1" />
<line x1="236.55" y1="89.5" x2="240.95" y2="89.5" stroke="#2f4b80" stroke-width="1" />
<line x1="256.25" y1="89.5" x2="256.25" y2="99.5" stroke="#2f4b80" stroke-width="1" />
<line x1="254.05" y1="89.5" x2="258.45" y2="89.5" stroke="#2f4b80" stroke-width="1" />
<line x1="254.05" y1="99.5" x2="258.45" y2="99.5" stroke="#2f4b80" stroke-width="1" />
<polyline points="186.75,95.3 203.75,92.4 221.25,84.8 238.75,85.5 256.25,94.5" fill="none" stroke="#2f4b80" stroke-width="1.2" stroke-linejoin="round"/>
<circle cx="186.75" cy="95.3" r="2.6" fill="#2f4b80" stroke="none" stroke-width="0"/>
<circle cx="203.75" cy="92.4" r="2.6" fill="#2f4b80" stroke="none" stroke-width="0"/>
<circle cx="221.25" cy="84.8" r="2.6" fill="#2f4b80" stroke="none" stroke-width="0"/>
<circle cx="238.75" cy="85.5" r="2.6" fill="#2f4b80" stroke="none" stroke-width="0"/>
<circle cx="256.25" cy="94.5" r="2.6" fill="#2f4b80" stroke="none" stroke-width="0"/>
<line x1="186.75" y1="91.3" x2="186.75" y2="99.3" stroke="#a6032b" stroke-width="1" />
<line x1="184.55" y1="91.3" x2="188.95" y2="91.3" stroke="#a6032b" stroke-width="1" />
<line x1="184.55" y1="99.3" x2="188.95" y2="99.3" stroke="#a6032b" stroke-width="1" />
<line x1="203.75" y1="92.7" x2="203.75" y2="104.7" stroke="#a6032b" stroke-width="1" />
<line x1="201.55" y1="92.7" x2="205.95" y2="92.7" stroke="#a6032b" stroke-width="1" />
<line x1="201.55" y1="104.7" x2="205.95" y2="104.7" stroke="#a6032b" stroke-width="1" />
<line x1="221.25" y1="85.1" x2="221.25" y2="97.1" stroke="#a6032b" stroke-width="1" />
<line x1="219.05" y1="85.1" x2="223.45" y2="85.1" stroke="#a6032b" stroke-width="1" />
<line x1="219.05" y1="97.1" x2="223.45" y2="97.1" stroke="#a6032b" stroke-width="1" />
<line x1="238.75" y1="80" x2="238.75" y2="92" stroke="#a6032b" stroke-width="1" />
<line x1="236.55" y1="80" x2="240.95" y2="80" stroke="#a6032b" stroke-width="1" />
<line x1="236.55" y1="92" x2="240.95" y2="92" stroke="#a6032b" stroke-width="1" />
<line x1="256.25" y1="85.8" x2="256.25" y2="99.8" stroke="#a6032b" stroke-width="1" />
<line x1="254.05" y1="85.8" x2="258.45" y2="85.8" stroke="#a6032b" stroke-width="1" />
<line x1="254.05" y1="99.8" x2="258.45" y2="99.8" stroke="#a6032b" stroke-width="1" />
<polyline points="186.75,95.3 203.75,98.7 221.25,91.1 238.75,86 256.25,92.8" fill="none" stroke="#a6032b" stroke-width="1.2" stroke-linejoin="round"/>
<rect x="184.25" y="92.8" width="5" height="5" fill="#a6032b" />
<rect x="201.25" y="96.2" width="5" height="5" fill="#a6032b" />
<rect x="218.75" y="88.6" width="5" height="5" fill="#a6032b" />
<rect x="236.25" y="83.5" width="5" height="5" fill="#a6032b" />
<rect x="253.75" y="90.3" width="5" height="5" fill="#a6032b" />
<line x1="186.75" y1="91.3" x2="186.75" y2="99.3" stroke="#a6032b" stroke-width="1" />
<line x1="184.55" y1="91.3" x2="188.95" y2="91.3" stroke="#a6032b" stroke-width="1" />
<line x1="184.55" y1="99.3" x2="188.95" y2="99.3" stroke="#a6032b" stroke-width="1" />
<line x1="203.75" y1="98" x2="203.75" y2="106" stroke="#a6032b" stroke-width="1" />
<line x1="201.55" y1="98" x2="205.95" y2="98" stroke="#a6032b" stroke-width="1" />
<line x1="201.55" y1="106" x2="205.95" y2="106" stroke="#a6032b" stroke-width="1" />
<line x1="221.25" y1="100.5" x2="221.25" y2="110.5" stroke="#a6032b" stroke-width="1" />
<line x1="219.05" y1="100.5" x2="223.45" y2="100.5" stroke="#a6032b" stroke-width="1" />
<line x1="219.05" y1="110.5" x2="223.45" y2="110.5" stroke="#a6032b" stroke-width="1" />
<line x1="238.75" y1="108.1" x2="238.75" y2="118.1" stroke="#a6032b" stroke-width="1" />
<line x1="236.55" y1="108.1" x2="240.95" y2="108.1" stroke="#a6032b" stroke-width="1" />
<line x1="236.55" y1="118.1" x2="240.95" y2="118.1" stroke="#a6032b" stroke-width="1" />
<line x1="256.25" y1="116.5" x2="256.25" y2="126.5" stroke="#a6032b" stroke-width="1" />
<line x1="254.05" y1="116.5" x2="258.45" y2="116.5" stroke="#a6032b" stroke-width="1" />
<line x1="254.05" y1="126.5" x2="258.45" y2="126.5" stroke="#a6032b" stroke-width="1" />
<polyline points="186.75,95.3 203.75,102 221.25,105.5 238.75,113.1 256.25,121.5" fill="none" stroke="#a6032b" stroke-width="1.2" stroke-linejoin="round"/>
<circle cx="186.75" cy="95.3" r="2.6" fill="#a6032b" stroke="none" stroke-width="0"/>
<circle cx="203.75" cy="102" r="2.6" fill="#a6032b" stroke="none" stroke-width="0"/>
<circle cx="221.25" cy="105.5" r="2.6" fill="#a6032b" stroke="none" stroke-width="0"/>
<circle cx="238.75" cy="113.1" r="2.6" fill="#a6032b" stroke="none" stroke-width="0"/>
<circle cx="256.25" cy="121.5" r="2.6" fill="#a6032b" stroke="none" stroke-width="0"/>
<line x1="309.25" y1="98" x2="309.25" y2="106" stroke="#2f4b80" stroke-width="1" />
<line x1="307.05" y1="98" x2="311.45" y2="98" stroke="#2f4b80" stroke-width="1" />
<line x1="307.05" y1="106" x2="311.45" y2="106" stroke="#2f4b80" stroke-width="1" />
<line x1="326.25" y1="97" x2="326.25" y2="103" stroke="#2f4b80" stroke-width="1" />
<line x1="324.05" y1="97" x2="328.45" y2="97" stroke="#2f4b80" stroke-width="1" />
<line x1="324.05" y1="103" x2="328.45" y2="103" stroke="#2f4b80" stroke-width="1" />
<line x1="343" y1="93.5" x2="343" y2="101.5" stroke="#2f4b80" stroke-width="1" />
<line x1="340.8" y1="93.5" x2="345.2" y2="93.5" stroke="#2f4b80" stroke-width="1" />
<line x1="340.8" y1="101.5" x2="345.2" y2="101.5" stroke="#2f4b80" stroke-width="1" />
<line x1="360" y1="88.75" x2="360" y2="98.75" stroke="#2f4b80" stroke-width="1" />
<line x1="357.8" y1="88.75" x2="362.2" y2="88.75" stroke="#2f4b80" stroke-width="1" />
<line x1="357.8" y1="98.75" x2="362.2" y2="98.75" stroke="#2f4b80" stroke-width="1" />
<line x1="377" y1="92" x2="377" y2="102" stroke="#2f4b80" stroke-width="1" />
<line x1="374.8" y1="92" x2="379.2" y2="92" stroke="#2f4b80" stroke-width="1" />
<line x1="374.8" y1="102" x2="379.2" y2="102" stroke="#2f4b80" stroke-width="1" />
<polyline points="309.25,102 326.25,100 343,97.5 360,93.75 377,97" fill="none" stroke="#2f4b80" stroke-width="1.2" stroke-linejoin="round"/>
<rect x="306.75" y="99.5" width="5" height="5" fill="#2f4b80" />
<rect x="323.75" y="97.5" width="5" height="5" fill="#2f4b80" />
<rect x="340.5" y="95" width="5" height="5" fill="#2f4b80" />
<rect x="357.5" y="91.25" width="5" height="5" fill="#2f4b80" />
<rect x="374.5" y="94.5" width="5" height="5" fill="#2f4b80" />
<line x1="309.25" y1="96.25" x2="309.25" y2="106.25" stroke="#2f4b80" stroke-width="1" />
<line x1="307.05" y1="96.25" x2="311.45" y2="96.25" stroke="#2f4b80" stroke-width="1" />
<line x1="307.05" y1="106.25" x2="311.45" y2="106.25" stroke="#2f4b80" stroke-width="1" />
<line x1="326.25" y1="95.5" x2="326.25" y2="103.5" stroke="#2f4b80" stroke-width="1" />
<line x1="324.05" y1="95.5" x2="328.45" y2="95.5" stroke="#2f4b80" stroke-width="1" />
<line x1="324.05" y1="103.5" x2="328.45" y2="103.5" stroke="#2f4b80" stroke-width="1" />
<line x1="343" y1="91" x2="343" y2="99" stroke="#2f4b80" stroke-width="1" />
<line x1="340.8" y1="91" x2="345.2" y2="91" stroke="#2f4b80" stroke-width="1" />
<line x1="340.8" y1="99" x2="345.2" y2="99" stroke="#2f4b80" stroke-width="1" />
<line x1="360" y1="87.25" x2="360" y2="91.25" stroke="#2f4b80" stroke-width="1" />
<line x1="357.8" y1="87.25" x2="362.2" y2="87.25" stroke="#2f4b80" stroke-width="1" />
<line x1="357.8" y1="91.25" x2="362.2" y2="91.25" stroke="#2f4b80" stroke-width="1" />
<line x1="377" y1="85" x2="377" y2="91" stroke="#2f4b80" stroke-width="1" />
<line x1="374.8" y1="85" x2="379.2" y2="85" stroke="#2f4b80" stroke-width="1" />
<line x1="374.8" y1="91" x2="379.2" y2="91" stroke="#2f4b80" stroke-width="1" />
<polyline points="309.25,101.25 326.25,99.5 343,95 360,89.25 377,88" fill="none" stroke="#2f4b80" stroke-width="1.2" stroke-linejoin="round"/>
<circle cx="309.25" cy="101.25" r="2.6" fill="#2f4b80" stroke="none" stroke-width="0"/>
<circle cx="326.25" cy="99.5" r="2.6" fill="#2f4b80" stroke="none" stroke-width="0"/>
<circle cx="343" cy="95" r="2.6" fill="#2f4b80" stroke="none" stroke-width="0"/>
<circle cx="360" cy="89.25" r="2.6" fill="#2f4b80" stroke="none" stroke-width="0"/>
<circle cx="377" cy="88" r="2.6" fill="#2f4b80" stroke="none" stroke-width="0"/>
<line x1="309.25" y1="101.25" x2="309.25" y2="111.25" stroke="#a6032b" stroke-width="1" />
<line x1="307.05" y1="101.25" x2="311.45" y2="101.25" stroke="#a6032b" stroke-width="1" />
<line x1="307.05" y1="111.25" x2="311.45" y2="111.25" stroke="#a6032b" stroke-width="1" />
<line x1="326.25" y1="99.75" x2="326.25" y2="107.75" stroke="#a6032b" stroke-width="1" />
<line x1="324.05" y1="99.75" x2="328.45" y2="99.75" stroke="#a6032b" stroke-width="1" />
<line x1="324.05" y1="107.75" x2="328.45" y2="107.75" stroke="#a6032b" stroke-width="1" />
<line x1="343" y1="99.75" x2="343" y2="107.75" stroke="#a6032b" stroke-width="1" />
<line x1="340.8" y1="99.75" x2="345.2" y2="99.75" stroke="#a6032b" stroke-width="1" />
<line x1="340.8" y1="107.75" x2="345.2" y2="107.75" stroke="#a6032b" stroke-width="1" />
<line x1="360" y1="103.75" x2="360" y2="113.75" stroke="#a6032b" stroke-width="1" />
<line x1="357.8" y1="103.75" x2="362.2" y2="103.75" stroke="#a6032b" stroke-width="1" />
<line x1="357.8" y1="113.75" x2="362.2" y2="113.75" stroke="#a6032b" stroke-width="1" />
<line x1="377" y1="106.75" x2="377" y2="114.75" stroke="#a6032b" stroke-width="1" />
<line x1="374.8" y1="106.75" x2="379.2" y2="106.75" stroke="#a6032b" stroke-width="1" />
<line x1="374.8" y1="114.75" x2="379.2" y2="114.75" stroke="#a6032b" stroke-width="1" />
<polyline points="309.25,106.25 326.25,103.75 343,103.75 360,108.75 377,110.75" fill="none" stroke="#a6032b" stroke-width="1.2" stroke-linejoin="round"/>
<rect x="306.75" y="103.75" width="5" height="5" fill="#a6032b" />
<rect x="323.75" y="101.25" width="5" height="5" fill="#a6032b" />
<rect x="340.5" y="101.25" width="5" height="5" fill="#a6032b" />
<rect x="357.5" y="106.25" width="5" height="5" fill="#a6032b" />
<rect x="374.5" y="108.25" width="5" height="5" fill="#a6032b" />
<line x1="309.25" y1="100.5" x2="309.25" y2="108.5" stroke="#a6032b" stroke-width="1" />
<line x1="307.05" y1="100.5" x2="311.45" y2="100.5" stroke="#a6032b" stroke-width="1" />
<line x1="307.05" y1="108.5" x2="311.45" y2="108.5" stroke="#a6032b" stroke-width="1" />
<line x1="326.25" y1="101.25" x2="326.25" y2="111.25" stroke="#a6032b" stroke-width="1" />
<line x1="324.05" y1="101.25" x2="328.45" y2="101.25" stroke="#a6032b" stroke-width="1" />
<line x1="324.05" y1="111.25" x2="328.45" y2="111.25" stroke="#a6032b" stroke-width="1" />
<line x1="343" y1="101.25" x2="343" y2="111.25" stroke="#a6032b" stroke-width="1" />
<line x1="340.8" y1="101.25" x2="345.2" y2="101.25" stroke="#a6032b" stroke-width="1" />
<line x1="340.8" y1="111.25" x2="345.2" y2="111.25" stroke="#a6032b" stroke-width="1" />
<line x1="360" y1="115" x2="360" y2="123" stroke="#a6032b" stroke-width="1" />
<line x1="357.8" y1="115" x2="362.2" y2="115" stroke="#a6032b" stroke-width="1" />
<line x1="357.8" y1="123" x2="362.2" y2="123" stroke="#a6032b" stroke-width="1" />
<line x1="377" y1="118" x2="377" y2="126" stroke="#a6032b" stroke-width="1" />
<line x1="374.8" y1="118" x2="379.2" y2="118" stroke="#a6032b" stroke-width="1" />
<line x1="374.8" y1="126" x2="379.2" y2="126" stroke="#a6032b" stroke-width="1" />
<polyline points="309.25,104.5 326.25,106.25 343,106.25 360,119 377,122" fill="none" stroke="#a6032b" stroke-width="1.2" stroke-linejoin="round"/>
<circle cx="309.25" cy="104.5" r="2.6" fill="#a6032b" stroke="none" stroke-width="0"/>
<circle cx="326.25" cy="106.25" r="2.6" fill="#a6032b" stroke="none" stroke-width="0"/>
<circle cx="343" cy="106.25" r="2.6" fill="#a6032b" stroke="none" stroke-width="0"/>
<circle cx="360" cy="119" r="2.6" fill="#a6032b" stroke="none" stroke-width="0"/>
<circle cx="377" cy="122" r="2.6" fill="#a6032b" stroke="none" stroke-width="0"/>
<line x1="428.75" y1="127.5" x2="428.75" y2="131.5" stroke="#2f4b80" stroke-width="1" />
<line x1="426.55" y1="127.5" x2="430.95" y2="127.5" stroke="#2f4b80" stroke-width="1" />
<line x1="426.55" y1="131.5" x2="430.95" y2="131.5" stroke="#2f4b80" stroke-width="1" />
<line x1="445.5" y1="120.5" x2="445.5" y2="124.5" stroke="#2f4b80" stroke-width="1" />
<line x1="443.3" y1="120.5" x2="447.7" y2="120.5" stroke="#2f4b80" stroke-width="1" />
<line x1="443.3" y1="124.5" x2="447.7" y2="124.5" stroke="#2f4b80" stroke-width="1" />
<line x1="462.5" y1="109.75" x2="462.5" y2="117.75" stroke="#2f4b80" stroke-width="1" />
<line x1="460.3" y1="109.75" x2="464.7" y2="109.75" stroke="#2f4b80" stroke-width="1" />
<line x1="460.3" y1="117.75" x2="464.7" y2="117.75" stroke="#2f4b80" stroke-width="1" />
<line x1="479.5" y1="102.25" x2="479.5" y2="110.25" stroke="#2f4b80" stroke-width="1" />
<line x1="477.3" y1="102.25" x2="481.7" y2="102.25" stroke="#2f4b80" stroke-width="1" />
<line x1="477.3" y1="110.25" x2="481.7" y2="110.25" stroke="#2f4b80" stroke-width="1" />
<line x1="496.25" y1="101" x2="496.25" y2="109" stroke="#2f4b80" stroke-width="1" />
<line x1="494.05" y1="101" x2="498.45" y2="101" stroke="#2f4b80" stroke-width="1" />
<line x1="494.05" y1="109" x2="498.45" y2="109" stroke="#2f4b80" stroke-width="1" />
<polyline points="428.75,129.5 445.5,122.5 462.5,113.75 479.5,106.25 496.25,105" fill="none" stroke="#2f4b80" stroke-width="1.2" stroke-linejoin="round"/>
<rect x="426.25" y="127" width="5" height="5" fill="#2f4b80" />
<rect x="443" y="120" width="5" height="5" fill="#2f4b80" />
<rect x="460" y="111.25" width="5" height="5" fill="#2f4b80" />
<rect x="477" y="103.75" width="5" height="5" fill="#2f4b80" />
<rect x="493.75" y="102.5" width="5" height="5" fill="#2f4b80" />
<line x1="428.75" y1="126.75" x2="428.75" y2="130.75" stroke="#2f4b80" stroke-width="1" />
<line x1="426.55" y1="126.75" x2="430.95" y2="126.75" stroke="#2f4b80" stroke-width="1" />
<line x1="426.55" y1="130.75" x2="430.95" y2="130.75" stroke="#2f4b80" stroke-width="1" />
<line x1="445.5" y1="121" x2="445.5" y2="125" stroke="#2f4b80" stroke-width="1" />
<line x1="443.3" y1="121" x2="447.7" y2="121" stroke="#2f4b80" stroke-width="1" />
<line x1="443.3" y1="125" x2="447.7" y2="125" stroke="#2f4b80" stroke-width="1" />
<line x1="462.5" y1="108.25" x2="462.5" y2="114.25" stroke="#2f4b80" stroke-width="1" />
<line x1="460.3" y1="108.25" x2="464.7" y2="108.25" stroke="#2f4b80" stroke-width="1" />
<line x1="460.3" y1="114.25" x2="464.7" y2="114.25" stroke="#2f4b80" stroke-width="1" />
<line x1="479.5" y1="96.5" x2="479.5" y2="102.5" stroke="#2f4b80" stroke-width="1" />
<line x1="477.3" y1="96.5" x2="481.7" y2="96.5" stroke="#2f4b80" stroke-width="1" />
<line x1="477.3" y1="102.5" x2="481.7" y2="102.5" stroke="#2f4b80" stroke-width="1" />
<line x1="496.25" y1="87" x2="496.25" y2="93" stroke="#2f4b80" stroke-width="1" />
<line x1="494.05" y1="87" x2="498.45" y2="87" stroke="#2f4b80" stroke-width="1" />
<line x1="494.05" y1="93" x2="498.45" y2="93" stroke="#2f4b80" stroke-width="1" />
<polyline points="428.75,128.75 445.5,123 462.5,111.25 479.5,99.5 496.25,90" fill="none" stroke="#2f4b80" stroke-width="1.2" stroke-linejoin="round"/>
<circle cx="428.75" cy="128.75" r="2.6" fill="#2f4b80" stroke="none" stroke-width="0"/>
<circle cx="445.5" cy="123" r="2.6" fill="#2f4b80" stroke="none" stroke-width="0"/>
<circle cx="462.5" cy="111.25" r="2.6" fill="#2f4b80" stroke="none" stroke-width="0"/>
<circle cx="479.5" cy="99.5" r="2.6" fill="#2f4b80" stroke="none" stroke-width="0"/>
<circle cx="496.25" cy="90" r="2.6" fill="#2f4b80" stroke="none" stroke-width="0"/>
<line x1="428.75" y1="126" x2="428.75" y2="130" stroke="#a6032b" stroke-width="1" />
<line x1="426.55" y1="126" x2="430.95" y2="126" stroke="#a6032b" stroke-width="1" />
<line x1="426.55" y1="130" x2="430.95" y2="130" stroke="#a6032b" stroke-width="1" />
<line x1="445.5" y1="124.25" x2="445.5" y2="128.25" stroke="#a6032b" stroke-width="1" />
<line x1="443.3" y1="124.25" x2="447.7" y2="124.25" stroke="#a6032b" stroke-width="1" />
<line x1="443.3" y1="128.25" x2="447.7" y2="128.25" stroke="#a6032b" stroke-width="1" />
<line x1="462.5" y1="108.75" x2="462.5" y2="118.75" stroke="#a6032b" stroke-width="1" />
<line x1="460.3" y1="108.75" x2="464.7" y2="108.75" stroke="#a6032b" stroke-width="1" />
<line x1="460.3" y1="118.75" x2="464.7" y2="118.75" stroke="#a6032b" stroke-width="1" />
<line x1="479.5" y1="101.5" x2="479.5" y2="109.5" stroke="#a6032b" stroke-width="1" />
<line x1="477.3" y1="101.5" x2="481.7" y2="101.5" stroke="#a6032b" stroke-width="1" />
<line x1="477.3" y1="109.5" x2="481.7" y2="109.5" stroke="#a6032b" stroke-width="1" />
<line x1="496.25" y1="104.5" x2="496.25" y2="110.5" stroke="#a6032b" stroke-width="1" />
<line x1="494.05" y1="104.5" x2="498.45" y2="104.5" stroke="#a6032b" stroke-width="1" />
<line x1="494.05" y1="110.5" x2="498.45" y2="110.5" stroke="#a6032b" stroke-width="1" />
<polyline points="428.75,128 445.5,126.25 462.5,113.75 479.5,105.5 496.25,107.5" fill="none" stroke="#a6032b" stroke-width="1.2" stroke-linejoin="round"/>
<rect x="426.25" y="125.5" width="5" height="5" fill="#a6032b" />
<rect x="443" y="123.75" width="5" height="5" fill="#a6032b" />
<rect x="460" y="111.25" width="5" height="5" fill="#a6032b" />
<rect x="477" y="103" width="5" height="5" fill="#a6032b" />
<rect x="493.75" y="105" width="5" height="5" fill="#a6032b" />
<line x1="428.75" y1="125.5" x2="428.75" y2="129.5" stroke="#a6032b" stroke-width="1" />
<line x1="426.55" y1="125.5" x2="430.95" y2="125.5" stroke="#a6032b" stroke-width="1" />
<line x1="426.55" y1="129.5" x2="430.95" y2="129.5" stroke="#a6032b" stroke-width="1" />
<line x1="445.5" y1="126" x2="445.5" y2="130" stroke="#a6032b" stroke-width="1" />
<line x1="443.3" y1="126" x2="447.7" y2="126" stroke="#a6032b" stroke-width="1" />
<line x1="443.3" y1="130" x2="447.7" y2="130" stroke="#a6032b" stroke-width="1" />
<line x1="462.5" y1="110" x2="462.5" y2="120" stroke="#a6032b" stroke-width="1" />
<line x1="460.3" y1="110" x2="464.7" y2="110" stroke="#a6032b" stroke-width="1" />
<line x1="460.3" y1="120" x2="464.7" y2="120" stroke="#a6032b" stroke-width="1" />
<line x1="479.5" y1="101" x2="479.5" y2="109" stroke="#a6032b" stroke-width="1" />
<line x1="477.3" y1="101" x2="481.7" y2="101" stroke="#a6032b" stroke-width="1" />
<line x1="477.3" y1="109" x2="481.7" y2="109" stroke="#a6032b" stroke-width="1" />
<line x1="496.25" y1="106" x2="496.25" y2="114" stroke="#a6032b" stroke-width="1" />
<line x1="494.05" y1="106" x2="498.45" y2="106" stroke="#a6032b" stroke-width="1" />
<line x1="494.05" y1="114" x2="498.45" y2="114" stroke="#a6032b" stroke-width="1" />
<polyline points="428.75,127.5 445.5,128 462.5,115 479.5,105 496.25,110" fill="none" stroke="#a6032b" stroke-width="1.2" stroke-linejoin="round"/>
<circle cx="428.75" cy="127.5" r="2.6" fill="#a6032b" stroke="none" stroke-width="0"/>
<circle cx="445.5" cy="128" r="2.6" fill="#a6032b" stroke="none" stroke-width="0"/>
<circle cx="462.5" cy="115" r="2.6" fill="#a6032b" stroke="none" stroke-width="0"/>
<circle cx="479.5" cy="105" r="2.6" fill="#a6032b" stroke="none" stroke-width="0"/>
<circle cx="496.25" cy="110" r="2.6" fill="#a6032b" stroke="none" stroke-width="0"/>
<rect x="33.75" y="193.5" width="10.75" height="4.5" fill="#a4acd6" />
<circle cx="48.75" cy="195.75" r="1.5" fill="#000" stroke="none" stroke-width="0"/>
<text x="53.75" y="197.6" font-size="5.2" textLength="20.75" lengthAdjust="spacingAndGlyphs" >+/+ Vehi</text>
<rect x="90" y="193.5" width="11.25" height="4.5" fill="#2c4f93" />
<polygon points="105,194.22 106.7,197.28 103.3,197.28" fill="#000" stroke="none" stroke-width="0"/>
<text x="110.5" y="197.6" font-size="5.2" textLength="37" lengthAdjust="spacingAndGlyphs" >+/+ Rapamycin</text>
<rect x="162" y="193.5" width="11" height="4.5" fill="#e9a89a" />
<circle cx="177.5" cy="195.75" r="1.3" fill="none" stroke="#000" stroke-width="0.8"/>
<text x="182" y="197.6" font-size="5.2" textLength="20" lengthAdjust="spacingAndGlyphs" >fl/fl Vehi</text>
<rect x="214.5" y="193.5" width="11" height="4.5" fill="#c0102f" />
<polygon points="230,194.28 231.8,197.52 228.2,197.52" fill="none" stroke="#000" stroke-width="0.8"/>
<text x="235" y="197.6" font-size="5.2" textLength="36" lengthAdjust="spacingAndGlyphs" >fl/fl Rapamycin</text>
<line x1="49.8" y1="223.4" x2="49.8" y2="297.75" stroke="#0a0a0a" stroke-width="1.1" />
<line x1="49.25" y1="297.2" x2="171.8" y2="297.2" stroke="#0a0a0a" stroke-width="1.1" />
<line x1="46.5" y1="297.2" x2="49.8" y2="297.2" stroke="#0a0a0a" stroke-width="1" />
<text x="43.8" y="299.4" font-size="6.3" text-anchor="end" stroke="#0a0a0a" >0</text>
<line x1="46.5" y1="282.96" x2="49.8" y2="282.96" stroke="#0a0a0a" stroke-width="1" />
<text x="43.8" y="285.16" font-size="6.3" text-anchor="end" stroke="#0a0a0a" >20</text>
<line x1="46.5" y1="268.72" x2="49.8" y2="268.72" stroke="#0a0a0a" stroke-width="1" />
<text x="43.8" y="270.92" font-size="6.3" text-anchor="end" stroke="#0a0a0a" >40</text>
<line x1="46.5" y1="254.48" x2="49.8" y2="254.48" stroke="#0a0a0a" stroke-width="1" />
<text x="43.8" y="256.68" font-size="6.3" text-anchor="end" stroke="#0a0a0a" >60</text>
<line x1="46.5" y1="240.24" x2="49.8" y2="240.24" stroke="#0a0a0a" stroke-width="1" />
<text x="43.8" y="242.44" font-size="6.3" text-anchor="end" stroke="#0a0a0a" >80</text>
<line x1="46.5" y1="226" x2="49.8" y2="226" stroke="#0a0a0a" stroke-width="1" />
<text x="43.8" y="228.2" font-size="6.3" text-anchor="end" stroke="#0a0a0a" >100</text>
<text x="28.6" y="259.8" font-size="8.2" text-anchor="middle" textLength="53.2" lengthAdjust="spacingAndGlyphs" transform="rotate(-90 28.6 259.8)" >Donor percentage</text>
<line x1="65.5" y1="297.2" x2="65.5" y2="300" stroke="#0a0a0a" stroke-width="1" />
<text x="65.5" y="308.6" font-size="6.6" text-anchor="middle" stroke="#0a0a0a" >HSC</text>
<rect x="52.7" y="260.3" width="5.5" height="36.9" fill="#a4acd6" />
<rect x="59.52" y="248.7" width="5.5" height="48.5" fill="#2c4f93" />
<rect x="66.34" y="289.4" width="5.5" height="7.8" fill="#e9a89a" />
<rect x="73.16" y="273" width="5.5" height="24.2" fill="#c0102f" />
<text x="55.45" y="295.2" font-size="5.7" text-anchor="middle" fill="#6d9cd8" >9</text>
<line x1="55.45" y1="238" x2="55.45" y2="282.6" stroke="#111" stroke-width="0.9" />
<line x1="53.65" y1="238" x2="57.25" y2="238" stroke="#111" stroke-width="0.9" />
<line x1="53.65" y1="282.6" x2="57.25" y2="282.6" stroke="#111" stroke-width="0.9" />
<circle cx="54.55" cy="234" r="1.45" fill="#000" stroke="none" stroke-width="0"/>
<circle cx="56.55" cy="243.6" r="1.45" fill="#000" stroke="none" stroke-width="0"/>
<circle cx="56.35" cy="244.4" r="1.45" fill="#000" stroke="none" stroke-width="0"/>
<circle cx="54.45" cy="246" r="1.45" fill="#000" stroke="none" stroke-width="0"/>
<circle cx="55.25" cy="255.7" r="1.45" fill="#000" stroke="none" stroke-width="0"/>
<circle cx="55.75" cy="259.7" r="1.45" fill="#000" stroke="none" stroke-width="0"/>
<circle cx="55.55" cy="278.1" r="1.45" fill="#000" stroke="none" stroke-width="0"/>
<circle cx="56.25" cy="290.9" r="1.45" fill="#000" stroke="none" stroke-width="0"/>
<circle cx="54.25" cy="291.2" r="1.45" fill="#000" stroke="none" stroke-width="0"/>
<text x="62.27" y="295.2" font-size="5.7" text-anchor="middle" fill="#6d9cd8" >9</text>
<line x1="62.27" y1="231.5" x2="62.27" y2="265.9" stroke="#111" stroke-width="0.9" />
<line x1="60.47" y1="231.5" x2="64.07" y2="231.5" stroke="#111" stroke-width="0.9" />
<line x1="60.47" y1="265.9" x2="64.07" y2="265.9" stroke="#111" stroke-width="0.9" />
<polygon points="63.07,227.71 64.72,230.69 61.42,230.69" fill="#000" stroke="none" stroke-width="0"/>
<polygon points="61.07,232.51 62.72,235.49 59.42,235.49" fill="#000" stroke="none" stroke-width="0"/>
<polygon points="61.67,234.91 63.32,237.89 60.02,237.89" fill="#000" stroke="none" stroke-width="0"/>
<polygon points="61.37,236.51 63.02,239.49 59.72,239.49" fill="#000" stroke="none" stroke-width="0"/>
<polygon points="63.37,238.91 65.02,241.89 61.72,241.89" fill="#000" stroke="none" stroke-width="0"/>
<polygon points="63.17,241.31 64.82,244.29 61.52,244.29" fill="#000" stroke="none" stroke-width="0"/>
<polygon points="61.27,268.62 62.92,271.59 59.62,271.59" fill="#000" stroke="none" stroke-width="0"/>
<polygon points="62.07,273.41 63.72,276.38 60.42,276.38" fill="#000" stroke="none" stroke-width="0"/>
<polygon points="62.57,286.21 64.22,289.19 60.92,289.19" fill="#000" stroke="none" stroke-width="0"/>
<text x="69.09" y="295.2" font-size="5.7" text-anchor="middle" fill="#6d9cd8" >8</text>
<line x1="69.09" y1="283.5" x2="69.09" y2="295.3" stroke="#111" stroke-width="0.9" />
<line x1="67.29" y1="283.5" x2="70.89" y2="283.5" stroke="#111" stroke-width="0.9" />
<line x1="67.29" y1="295.3" x2="70.89" y2="295.3" stroke="#111" stroke-width="0.9" />
<circle cx="68.89" cy="278.9" r="1.2" fill="none" stroke="#000" stroke-width="0.9"/>
<circle cx="69.39" cy="283.7" r="1.2" fill="none" stroke="#000" stroke-width="0.9"/>
<circle cx="69.19" cy="286.1" r="1.2" fill="none" stroke="#000" stroke-width="0.9"/>
<circle cx="69.89" cy="289" r="1.2" fill="none" stroke="#000" stroke-width="0.9"/>
<circle cx="67.89" cy="290.9" r="1.2" fill="none" stroke="#000" stroke-width="0.9"/>
<text x="75.91" y="295.2" font-size="5.7" text-anchor="middle" fill="#6d9cd8" >8</text>
<line x1="75.91" y1="254.9" x2="75.91" y2="291.1" stroke="#111" stroke-width="0.9" />
<line x1="74.11" y1="254.9" x2="77.71" y2="254.9" stroke="#111" stroke-width="0.9" />
<line x1="74.11" y1="291.1" x2="77.71" y2="291.1" stroke="#111" stroke-width="0.9" />
<polygon points="77.01,249.45 78.51,252.15 75.51,252.15" fill="#000" stroke="#000" stroke-width="0.5"/>
<polygon points="76.81,256.75 78.31,259.45 75.31,259.45" fill="#000" stroke="#000" stroke-width="0.5"/>
<polygon points="74.91,261.55 76.41,264.25 73.41,264.25" fill="#000" stroke="#000" stroke-width="0.5"/>
<polygon points="75.71,273.55 77.21,276.25 74.21,276.25" fill="#000" stroke="#000" stroke-width="0.5"/>
<polygon points="76.21,275.95 77.71,278.65 74.71,278.65" fill="#000" stroke="#000" stroke-width="0.5"/>
<polygon points="76.01,278.35 77.51,281.05 74.51,281.05" fill="#000" stroke="#000" stroke-width="0.5"/>
<polygon points="76.71,284.75 78.21,287.45 75.21,287.45" fill="#000" stroke="#000" stroke-width="0.5"/>
<polygon points="74.71,286.35 76.21,289.05 73.21,289.05" fill="#000" stroke="#000" stroke-width="0.5"/>
<line x1="95.4" y1="297.2" x2="95.4" y2="300" stroke="#0a0a0a" stroke-width="1" />
<text x="95.4" y="308.6" font-size="6.6" text-anchor="middle" stroke="#0a0a0a" >MPP</text>
<rect x="82.6" y="266.1" width="5.5" height="31.1" fill="#a4acd6" />
<rect x="89.42" y="261.5" width="5.5" height="35.7" fill="#2c4f93" />
<rect x="96.24" y="284.2" width="5.5" height="13" fill="#e9a89a" />
<rect x="103.06" y="262.7" width="5.5" height="34.5" fill="#c0102f" />
<text x="85.35" y="295.2" font-size="5.7" text-anchor="middle" fill="#6d9cd8" >9</text>
<line x1="85.35" y1="246" x2="85.35" y2="286.2" stroke="#111" stroke-width="0.9" />
<line x1="83.55" y1="246" x2="87.15" y2="246" stroke="#111" stroke-width="0.9" />
<line x1="83.55" y1="286.2" x2="87.15" y2="286.2" stroke="#111" stroke-width="0.9" />
<circle cx="84.45" cy="229.2" r="1.45" fill="#000" stroke="none" stroke-width="0"/>
<circle cx="86.45" cy="242.8" r="1.45" fill="#000" stroke="none" stroke-width="0"/>
<circle cx="86.25" cy="250.8" r="1.45" fill="#000" stroke="none" stroke-width="0"/>
<circle cx="84.35" cy="265.3" r="1.45" fill="#000" stroke="none" stroke-width="0"/>
<circle cx="85.15" cy="270.1" r="1.45" fill="#000" stroke="none" stroke-width="0"/>
<circle cx="85.65" cy="271.7" r="1.45" fill="#000" stroke="none" stroke-width="0"/>
<circle cx="85.45" cy="274.9" r="1.45" fill="#000" stroke="none" stroke-width="0"/>
<circle cx="86.15" cy="279.7" r="1.45" fill="#000" stroke="none" stroke-width="0"/>
<circle cx="84.15" cy="286.9" r="1.45" fill="#000" stroke="none" stroke-width="0"/>
<text x="92.17" y="295.2" font-size="5.7" text-anchor="middle" fill="#6d9cd8" >9</text>
<line x1="92.17" y1="238.8" x2="92.17" y2="284.2" stroke="#111" stroke-width="0.9" />
<line x1="90.37" y1="238.8" x2="93.97" y2="238.8" stroke="#111" stroke-width="0.9" />
<line x1="90.37" y1="284.2" x2="93.97" y2="284.2" stroke="#111" stroke-width="0.9" />
<polygon points="92.97,230.91 94.62,233.89 91.32,233.89" fill="#000" stroke="none" stroke-width="0"/>
<polygon points="90.97,235.71 92.62,238.69 89.32,238.69" fill="#000" stroke="none" stroke-width="0"/>
<polygon points="91.57,236.51 93.22,239.49 89.92,239.49" fill="#000" stroke="none" stroke-width="0"/>
<polygon points="91.27,273.41 92.92,276.38 89.62,276.38" fill="#000" stroke="none" stroke-width="0"/>
<polygon points="93.27,281.41 94.92,284.38 91.62,284.38" fill="#000" stroke="none" stroke-width="0"/>
<polygon points="93.07,282.21 94.72,285.19 91.42,285.19" fill="#000" stroke="none" stroke-width="0"/>
<polygon points="91.17,285.41 92.82,288.38 89.52,288.38" fill="#000" stroke="none" stroke-width="0"/>
<text x="98.99" y="295.2" font-size="5.7" text-anchor="middle" fill="#6d9cd8" >8</text>
<line x1="98.99" y1="270.1" x2="98.99" y2="297.2" stroke="#111" stroke-width="0.9" />
<line x1="97.19" y1="270.1" x2="100.79" y2="270.1" stroke="#111" stroke-width="0.9" />
<circle cx="98.79" cy="262.9" r="1.2" fill="none" stroke="#000" stroke-width="0.9"/>
<circle cx="99.29" cy="273.3" r="1.2" fill="none" stroke="#000" stroke-width="0.9"/>
<circle cx="99.09" cy="276.5" r="1.2" fill="none" stroke="#000" stroke-width="0.9"/>
<circle cx="99.79" cy="282.9" r="1.2" fill="none" stroke="#000" stroke-width="0.9"/>
<circle cx="97.79" cy="286.9" r="1.2" fill="none" stroke="#000" stroke-width="0.9"/>
<circle cx="98.39" cy="289.3" r="1.2" fill="none" stroke="#000" stroke-width="0.9"/>
<text x="105.81" y="295.2" font-size="5.7" text-anchor="middle" fill="#6d9cd8" >8</text>
<line x1="105.81" y1="246" x2="105.81" y2="279.4" stroke="#111" stroke-width="0.9" />
<line x1="104.01" y1="246" x2="107.61" y2="246" stroke="#111" stroke-width="0.9" />
<line x1="104.01" y1="279.4" x2="107.61" y2="279.4" stroke="#111" stroke-width="0.9" />
<polygon points="106.91,241.45 108.41,244.15 105.41,244.15" fill="#000" stroke="#000" stroke-width="0.5"/>
<polygon points="106.71,243.05 108.21,245.75 105.21,245.75" fill="#000" stroke="#000" stroke-width="0.5"/>
<polygon points="104.81,244.65 106.31,247.35 103.31,247.35" fill="#000" stroke="#000" stroke-width="0.5"/>
<polygon points="105.61,251.05 107.11,253.75 104.11,253.75" fill="#000" stroke="#000" stroke-width="0.5"/>
<polygon points="106.11,252.65 107.61,255.35 104.61,255.35" fill="#000" stroke="#000" stroke-width="0.5"/>
<polygon points="105.91,254.35 107.41,257.05 104.41,257.05" fill="#000" stroke="#000" stroke-width="0.5"/>
<polygon points="106.61,271.95 108.11,274.65 105.11,274.65" fill="#000" stroke="#000" stroke-width="0.5"/>
<polygon points="104.61,275.95 106.11,278.65 103.11,278.65" fill="#000" stroke="#000" stroke-width="0.5"/>
<polygon points="105.21,285.55 106.71,288.25 103.71,288.25" fill="#000" stroke="#000" stroke-width="0.5"/>
<line x1="125.3" y1="297.2" x2="125.3" y2="300" stroke="#0a0a0a" stroke-width="1" />
<text x="125.3" y="308.6" font-size="6.6" text-anchor="middle" stroke="#0a0a0a" >MP</text>
<rect x="112.5" y="264" width="5.5" height="33.2" fill="#a4acd6" />
<rect x="119.32" y="262.4" width="5.5" height="34.8" fill="#2c4f93" />
<rect x="126.14" y="287.1" width="5.5" height="10.1" fill="#e9a89a" />
<rect x="132.96" y="259.8" width="5.5" height="37.4" fill="#c0102f" />
<text x="115.25" y="295.2" font-size="5.7" text-anchor="middle" fill="#6d9cd8" >9</text>
<line x1="115.25" y1="245.7" x2="115.25" y2="282.3" stroke="#111" stroke-width="0.9" />
<line x1="113.45" y1="245.7" x2="117.05" y2="245.7" stroke="#111" stroke-width="0.9" />
<line x1="113.45" y1="282.3" x2="117.05" y2="282.3" stroke="#111" stroke-width="0.9" />
<circle cx="114.35" cy="227.6" r="1.45" fill="#000" stroke="none" stroke-width="0"/>
<circle cx="116.35" cy="243.6" r="1.45" fill="#000" stroke="none" stroke-width="0"/>
<circle cx="116.15" cy="246" r="1.45" fill="#000" stroke="none" stroke-width="0"/>
<circle cx="114.25" cy="259.7" r="1.45" fill="#000" stroke="none" stroke-width="0"/>
<circle cx="115.05" cy="270.1" r="1.45" fill="#000" stroke="none" stroke-width="0"/>
<circle cx="115.55" cy="273.3" r="1.45" fill="#000" stroke="none" stroke-width="0"/>
<circle cx="115.35" cy="274.9" r="1.45" fill="#000" stroke="none" stroke-width="0"/>
<circle cx="116.05" cy="276.5" r="1.45" fill="#000" stroke="none" stroke-width="0"/>
<circle cx="114.05" cy="290.9" r="1.45" fill="#000" stroke="none" stroke-width="0"/>
<text x="122.07" y="295.2" font-size="5.7" text-anchor="middle" fill="#6d9cd8" >9</text>
<line x1="122.07" y1="238" x2="122.07" y2="286.8" stroke="#111" stroke-width="0.9" />
<line x1="120.27" y1="238" x2="123.87" y2="238" stroke="#111" stroke-width="0.9" />
<line x1="120.27" y1="286.8" x2="123.87" y2="286.8" stroke="#111" stroke-width="0.9" />
<polygon points="122.87,229.31 124.52,232.29 121.22,232.29" fill="#000" stroke="none" stroke-width="0"/>
<polygon points="120.87,235.71 122.52,238.69 119.22,238.69" fill="#000" stroke="none" stroke-width="0"/>
<polygon points="121.47,237.31 123.12,240.29 119.82,240.29" fill="#000" stroke="none" stroke-width="0"/>
<polygon points="121.17,238.11 122.82,241.09 119.52,241.09" fill="#000" stroke="none" stroke-width="0"/>
<polygon points="123.17,239.71 124.82,242.69 121.52,242.69" fill="#000" stroke="none" stroke-width="0"/>
<polygon points="122.97,276.62 124.62,279.59 121.32,279.59" fill="#000" stroke="none" stroke-width="0"/>
<polygon points="121.07,278.21 122.72,281.19 119.42,281.19" fill="#000" stroke="none" stroke-width="0"/>
<polygon points="121.87,283.81 123.52,286.79 120.22,286.79" fill="#000" stroke="none" stroke-width="0"/>
<polygon points="122.37,284.62 124.02,287.59 120.72,287.59" fill="#000" stroke="none" stroke-width="0"/>
<text x="128.89" y="295.2" font-size="5.7" text-anchor="middle" fill="#6d9cd8" >8</text>
<line x1="128.89" y1="277.3" x2="128.89" y2="296.9" stroke="#111" stroke-width="0.9" />
<line x1="127.09" y1="277.3" x2="130.69" y2="277.3" stroke="#111" stroke-width="0.9" />
<line x1="127.09" y1="296.9" x2="130.69" y2="296.9" stroke="#111" stroke-width="0.9" />
<circle cx="128.69" cy="267.2" r="1.2" fill="none" stroke="#000" stroke-width="0.9"/>
<circle cx="129.19" cy="283.7" r="1.2" fill="none" stroke="#000" stroke-width="0.9"/>
<circle cx="128.99" cy="285.3" r="1.2" fill="none" stroke="#000" stroke-width="0.9"/>
<circle cx="129.69" cy="286.9" r="1.2" fill="none" stroke="#000" stroke-width="0.9"/>
<circle cx="127.69" cy="289.3" r="1.2" fill="none" stroke="#000" stroke-width="0.9"/>
<circle cx="128.29" cy="291.7" r="1.2" fill="none" stroke="#000" stroke-width="0.9"/>
<text x="135.71" y="295.2" font-size="5.7" text-anchor="middle" fill="#6d9cd8" >8</text>
<line x1="135.71" y1="246.8" x2="135.71" y2="272.8" stroke="#111" stroke-width="0.9" />
<line x1="133.91" y1="246.8" x2="137.51" y2="246.8" stroke="#111" stroke-width="0.9" />
<line x1="133.91" y1="272.8" x2="137.51" y2="272.8" stroke="#111" stroke-width="0.9" />
<polygon points="136.81,244.65 138.31,247.35 135.31,247.35" fill="#000" stroke="#000" stroke-width="0.5"/>
<polygon points="136.61,246.25 138.11,248.95 135.11,248.95" fill="#000" stroke="#000" stroke-width="0.5"/>
<polygon points="134.71,247.85 136.21,250.55 133.21,250.55" fill="#000" stroke="#000" stroke-width="0.5"/>
<polygon points="135.51,249.45 137.01,252.15 134.01,252.15" fill="#000" stroke="#000" stroke-width="0.5"/>
<polygon points="136.01,251.05 137.51,253.75 134.51,253.75" fill="#000" stroke="#000" stroke-width="0.5"/>
<polygon points="135.81,263.15 137.31,265.85 134.31,265.85" fill="#000" stroke="#000" stroke-width="0.5"/>
<polygon points="136.51,268.75 138.01,271.45 135.01,271.45" fill="#000" stroke="#000" stroke-width="0.5"/>
<polygon points="134.51,283.95 136.01,286.65 133.01,286.65" fill="#000" stroke="#000" stroke-width="0.5"/>
<line x1="155.2" y1="297.2" x2="155.2" y2="300" stroke="#0a0a0a" stroke-width="1" />
<text x="155.2" y="308.6" font-size="6.6" text-anchor="middle" stroke="#0a0a0a" >LSK</text>
<rect x="142.4" y="264" width="5.5" height="33.2" fill="#a4acd6" />
<rect x="149.22" y="260.3" width="5.5" height="36.9" fill="#2c4f93" />
<rect x="156.04" y="289.4" width="5.5" height="7.8" fill="#e9a89a" />
<rect x="162.86" y="263.2" width="5.5" height="34" fill="#c0102f" />
<text x="145.15" y="295.2" font-size="5.7" text-anchor="middle" fill="#6d9cd8" >9</text>
<line x1="145.15" y1="247.6" x2="145.15" y2="280.4" stroke="#111" stroke-width="0.9" />
<line x1="143.35" y1="247.6" x2="146.95" y2="247.6" stroke="#111" stroke-width="0.9" />
<line x1="143.35" y1="280.4" x2="146.95" y2="280.4" stroke="#111" stroke-width="0.9" />
<circle cx="144.25" cy="233.2" r="1.45" fill="#000" stroke="none" stroke-width="0"/>
<circle cx="146.25" cy="246.8" r="1.45" fill="#000" stroke="none" stroke-width="0"/>
<circle cx="146.05" cy="250.8" r="1.45" fill="#000" stroke="none" stroke-width="0"/>
<circle cx="144.15" cy="251.6" r="1.45" fill="#000" stroke="none" stroke-width="0"/>
<circle cx="144.95" cy="265.3" r="1.45" fill="#000" stroke="none" stroke-width="0"/>
<circle cx="145.45" cy="268.5" r="1.45" fill="#000" stroke="none" stroke-width="0"/>
<circle cx="145.25" cy="277.3" r="1.45" fill="#000" stroke="none" stroke-width="0"/>
<circle cx="145.95" cy="278.1" r="1.45" fill="#000" stroke="none" stroke-width="0"/>
<circle cx="143.95" cy="290.1" r="1.45" fill="#000" stroke="none" stroke-width="0"/>
<text x="151.97" y="295.2" font-size="5.7" text-anchor="middle" fill="#6d9cd8" >9</text>
<line x1="151.97" y1="239.6" x2="151.97" y2="281" stroke="#111" stroke-width="0.9" />
<line x1="150.17" y1="239.6" x2="153.77" y2="239.6" stroke="#111" stroke-width="0.9" />
<line x1="150.17" y1="281" x2="153.77" y2="281" stroke="#111" stroke-width="0.9" />
<polygon points="152.77,228.51 154.42,231.49 151.12,231.49" fill="#000" stroke="none" stroke-width="0"/>
<polygon points="150.77,235.71 152.42,238.69 149.12,238.69" fill="#000" stroke="none" stroke-width="0"/>
<polygon points="151.37,237.31 153.02,240.29 149.72,240.29" fill="#000" stroke="none" stroke-width="0"/>
<polygon points="151.07,238.91 152.72,241.89 149.42,241.89" fill="#000" stroke="none" stroke-width="0"/>
<polygon points="153.07,240.51 154.72,243.49 151.42,243.49" fill="#000" stroke="none" stroke-width="0"/>
<polygon points="152.87,265.41 154.52,268.38 151.22,268.38" fill="#000" stroke="none" stroke-width="0"/>
<polygon points="150.97,270.21 152.62,273.19 149.32,273.19" fill="#000" stroke="none" stroke-width="0"/>
<polygon points="151.77,273.41 153.42,276.38 150.12,276.38" fill="#000" stroke="none" stroke-width="0"/>
<polygon points="152.27,281.41 153.92,284.38 150.62,284.38" fill="#000" stroke="none" stroke-width="0"/>
<text x="158.79" y="295.2" font-size="5.7" text-anchor="middle" fill="#6d9cd8" >8</text>
<line x1="158.79" y1="279.7" x2="158.79" y2="297.2" stroke="#111" stroke-width="0.9" />
<line x1="156.99" y1="279.7" x2="160.59" y2="279.7" stroke="#111" stroke-width="0.9" />
<circle cx="158.59" cy="274.1" r="1.2" fill="none" stroke="#000" stroke-width="0.9"/>
<circle cx="159.09" cy="284.5" r="1.2" fill="none" stroke="#000" stroke-width="0.9"/>
<circle cx="158.89" cy="285.3" r="1.2" fill="none" stroke="#000" stroke-width="0.9"/>
<circle cx="159.59" cy="286.9" r="1.2" fill="none" stroke="#000" stroke-width="0.9"/>
<circle cx="157.59" cy="289.3" r="1.2" fill="none" stroke="#000" stroke-width="0.9"/>
<circle cx="158.19" cy="291.7" r="1.2" fill="none" stroke="#000" stroke-width="0.9"/>
<text x="165.61" y="295.2" font-size="5.7" text-anchor="middle" fill="#6d9cd8" >8</text>
<line x1="165.61" y1="248.4" x2="165.61" y2="278" stroke="#111" stroke-width="0.9" />
<line x1="163.81" y1="248.4" x2="167.41" y2="248.4" stroke="#111" stroke-width="0.9" />
<line x1="163.81" y1="278" x2="167.41" y2="278" stroke="#111" stroke-width="0.9" />
<polygon points="166.71,247.05 168.21,249.75 165.21,249.75" fill="#000" stroke="#000" stroke-width="0.5"/>
<polygon points="166.51,248.65 168.01,251.35 165.01,251.35" fill="#000" stroke="#000" stroke-width="0.5"/>
<polygon points="164.61,250.25 166.11,252.95 163.11,252.95" fill="#000" stroke="#000" stroke-width="0.5"/>
<polygon points="165.41,251.85 166.91,254.55 163.91,254.55" fill="#000" stroke="#000" stroke-width="0.5"/>
<polygon points="165.91,265.55 167.41,268.25 164.41,268.25" fill="#000" stroke="#000" stroke-width="0.5"/>
<polygon points="165.71,268.75 167.21,271.45 164.21,271.45" fill="#000" stroke="#000" stroke-width="0.5"/>
<polygon points="166.41,271.15 167.91,273.85 164.91,273.85" fill="#000" stroke="#000" stroke-width="0.5"/>
<polygon points="164.41,274.35 165.91,277.05 162.91,277.05" fill="#000" stroke="#000" stroke-width="0.5"/>
<polygon points="165.01,283.95 166.51,286.65 163.51,286.65" fill="#000" stroke="#000" stroke-width="0.5"/>
<line x1="212.5" y1="223.4" x2="212.5" y2="297.75" stroke="#0a0a0a" stroke-width="1.1" />
<line x1="211.95" y1="297.2" x2="338.5" y2="297.2" stroke="#0a0a0a" stroke-width="1.1" />
<line x1="209.2" y1="297.2" x2="212.5" y2="297.2" stroke="#0a0a0a" stroke-width="1" />
<text x="206.5" y="299.4" font-size="6.3" text-anchor="end" stroke="#0a0a0a" >0</text>
<line x1="209.2" y1="282.96" x2="212.5" y2="282.96" stroke="#0a0a0a" stroke-width="1" />
<text x="206.5" y="285.16" font-size="6.3" text-anchor="end" stroke="#0a0a0a" >20</text>
<line x1="209.2" y1="268.72" x2="212.5" y2="268.72" stroke="#0a0a0a" stroke-width="1" />
<text x="206.5" y="270.92" font-size="6.3" text-anchor="end" stroke="#0a0a0a" >40</text>
<line x1="209.2" y1="254.48" x2="212.5" y2="254.48" stroke="#0a0a0a" stroke-width="1" />
<text x="206.5" y="256.68" font-size="6.3" text-anchor="end" stroke="#0a0a0a" >60</text>
<line x1="209.2" y1="240.24" x2="212.5" y2="240.24" stroke="#0a0a0a" stroke-width="1" />
<text x="206.5" y="242.44" font-size="6.3" text-anchor="end" stroke="#0a0a0a" >80</text>
<line x1="209.2" y1="226" x2="212.5" y2="226" stroke="#0a0a0a" stroke-width="1" />
<text x="206.5" y="228.2" font-size="6.3" text-anchor="end" stroke="#0a0a0a" >100</text>
<text x="191.3" y="259.8" font-size="8.2" text-anchor="middle" textLength="53.2" lengthAdjust="spacingAndGlyphs" transform="rotate(-90 191.3 259.8)" >Donor percentage</text>
<line x1="228.7" y1="297.2" x2="228.7" y2="300" stroke="#0a0a0a" stroke-width="1" />
<text x="228.7" y="308.6" font-size="6.6" text-anchor="middle" stroke="#0a0a0a" >GMP</text>
<rect x="215.9" y="268.8" width="5.5" height="28.4" fill="#a4acd6" />
<rect x="222.72" y="262.9" width="5.5" height="34.3" fill="#2c4f93" />
<rect x="229.54" y="288" width="5.5" height="9.2" fill="#e9a89a" />
<rect x="236.36" y="255.9" width="5.5" height="41.3" fill="#c0102f" />
<text x="218.65" y="295.2" font-size="5.7" text-anchor="middle" fill="#6d9cd8" >8</text>
<line x1="218.65" y1="245.5" x2="218.65" y2="292.1" stroke="#111" stroke-width="0.9" />
<line x1="216.85" y1="245.5" x2="220.45" y2="245.5" stroke="#111" stroke-width="0.9" />
<line x1="216.85" y1="292.1" x2="220.45" y2="292.1" stroke="#111" stroke-width="0.9" />
<circle cx="217.75" cy="232.2" r="1.45" fill="#000" stroke="none" stroke-width="0"/>
<circle cx="219.75" cy="234.3" r="1.45" fill="#000" stroke="none" stroke-width="0"/>
<circle cx="219.55" cy="263.5" r="1.45" fill="#000" stroke="none" stroke-width="0"/>
<circle cx="217.65" cy="265" r="1.45" fill="#000" stroke="none" stroke-width="0"/>
<circle cx="218.45" cy="269.1" r="1.45" fill="#000" stroke="none" stroke-width="0"/>
<circle cx="218.95" cy="274.7" r="1.45" fill="#000" stroke="none" stroke-width="0"/>
<circle cx="218.75" cy="281.9" r="1.45" fill="#000" stroke="none" stroke-width="0"/>
<circle cx="219.45" cy="290.7" r="1.45" fill="#000" stroke="none" stroke-width="0"/>
<circle cx="217.45" cy="292.3" r="1.45" fill="#000" stroke="none" stroke-width="0"/>
<text x="225.47" y="295.2" font-size="5.7" text-anchor="middle" fill="#6d9cd8" >8</text>
<line x1="225.47" y1="237" x2="225.47" y2="288.8" stroke="#111" stroke-width="0.9" />
<line x1="223.67" y1="237" x2="227.27" y2="237" stroke="#111" stroke-width="0.9" />
<line x1="223.67" y1="288.8" x2="227.27" y2="288.8" stroke="#111" stroke-width="0.9" />
<polygon points="226.27,228.31 227.92,231.29 224.62,231.29" fill="#000" stroke="none" stroke-width="0"/>
<polygon points="224.27,238.71 225.92,241.69 222.62,241.69" fill="#000" stroke="none" stroke-width="0"/>
<polygon points="224.87,241.11 226.52,244.09 223.22,244.09" fill="#000" stroke="none" stroke-width="0"/>
<polygon points="224.57,245.11 226.22,248.09 222.92,248.09" fill="#000" stroke="none" stroke-width="0"/>
<polygon points="226.57,276.41 228.22,279.38 224.92,279.38" fill="#000" stroke="none" stroke-width="0"/>
<polygon points="226.37,278.01 228.02,280.99 224.72,280.99" fill="#000" stroke="none" stroke-width="0"/>
<polygon points="224.47,285.21 226.12,288.19 222.82,288.19" fill="#000" stroke="none" stroke-width="0"/>
<polygon points="225.27,287.62 226.92,290.59 223.62,290.59" fill="#000" stroke="none" stroke-width="0"/>
<polygon points="225.77,289.21 227.42,292.19 224.12,292.19" fill="#000" stroke="none" stroke-width="0"/>
<text x="232.29" y="295.2" font-size="5.7" text-anchor="middle" fill="#6d9cd8" >8</text>
<line x1="232.29" y1="281" x2="232.29" y2="295" stroke="#111" stroke-width="0.9" />
<line x1="230.49" y1="281" x2="234.09" y2="281" stroke="#111" stroke-width="0.9" />
<line x1="230.49" y1="295" x2="234.09" y2="295" stroke="#111" stroke-width="0.9" />
<circle cx="232.09" cy="277.1" r="1.2" fill="none" stroke="#000" stroke-width="0.9"/>
<circle cx="232.59" cy="281.4" r="1.2" fill="none" stroke="#000" stroke-width="0.9"/>
<circle cx="232.39" cy="282.7" r="1.2" fill="none" stroke="#000" stroke-width="0.9"/>
<circle cx="233.09" cy="286.7" r="1.2" fill="none" stroke="#000" stroke-width="0.9"/>
<circle cx="231.09" cy="290.7" r="1.2" fill="none" stroke="#000" stroke-width="0.9"/>
<circle cx="231.69" cy="292" r="1.2" fill="none" stroke="#000" stroke-width="0.9"/>
<text x="239.11" y="295.2" font-size="5.7" text-anchor="middle" fill="#6d9cd8" >8</text>
<line x1="239.11" y1="241" x2="239.11" y2="270.8" stroke="#111" stroke-width="0.9" />
<line x1="237.31" y1="241" x2="240.91" y2="241" stroke="#111" stroke-width="0.9" />
<line x1="237.31" y1="270.8" x2="240.91" y2="270.8" stroke="#111" stroke-width="0.9" />
<polygon points="240.21,239.65 241.71,242.35 238.71,242.35" fill="#000" stroke="#000" stroke-width="0.5"/>
<polygon points="240.01,240.95 241.51,243.65 238.51,243.65" fill="#000" stroke="#000" stroke-width="0.5"/>
<polygon points="238.11,242.55 239.61,245.25 236.61,245.25" fill="#000" stroke="#000" stroke-width="0.5"/>
<polygon points="238.91,244.45 240.41,247.15 237.41,247.15" fill="#000" stroke="#000" stroke-width="0.5"/>
<polygon points="239.41,254.05 240.91,256.75 237.91,256.75" fill="#000" stroke="#000" stroke-width="0.5"/>
<polygon points="239.21,260.65 240.71,263.35 237.71,263.35" fill="#000" stroke="#000" stroke-width="0.5"/>
<polygon points="239.91,264.65 241.41,267.35 238.41,267.35" fill="#000" stroke="#000" stroke-width="0.5"/>
<polygon points="237.91,275.75 239.41,278.45 236.41,278.45" fill="#000" stroke="#000" stroke-width="0.5"/>
<line x1="259.5" y1="297.2" x2="259.5" y2="300" stroke="#0a0a0a" stroke-width="1" />
<text x="259.5" y="308.6" font-size="6.6" text-anchor="middle" stroke="#0a0a0a" >MEP</text>
<rect x="246.7" y="257.2" width="5.5" height="40" fill="#a4acd6" />
<rect x="253.52" y="258.6" width="5.5" height="38.6" fill="#2c4f93" />
<rect x="260.34" y="264.9" width="5.5" height="32.3" fill="#e9a89a" />
<rect x="267.16" y="259.3" width="5.5" height="37.9" fill="#c0102f" />
<text x="249.45" y="295.2" font-size="5.7" text-anchor="middle" fill="#6d9cd8" >8</text>
<line x1="249.45" y1="243.4" x2="249.45" y2="271" stroke="#111" stroke-width="0.9" />
<line x1="247.65" y1="243.4" x2="251.25" y2="243.4" stroke="#111" stroke-width="0.9" />
<line x1="247.65" y1="271" x2="251.25" y2="271" stroke="#111" stroke-width="0.9" />
<circle cx="248.55" cy="236.2" r="1.45" fill="#000" stroke="none" stroke-width="0"/>
<circle cx="250.55" cy="243.9" r="1.45" fill="#000" stroke="none" stroke-width="0"/>
<circle cx="250.35" cy="249.8" r="1.45" fill="#000" stroke="none" stroke-width="0"/>
<circle cx="248.45" cy="250.6" r="1.45" fill="#000" stroke="none" stroke-width="0"/>
<circle cx="249.25" cy="253.5" r="1.45" fill="#000" stroke="none" stroke-width="0"/>
<circle cx="249.75" cy="267" r="1.45" fill="#000" stroke="none" stroke-width="0"/>
<circle cx="249.55" cy="268.6" r="1.45" fill="#000" stroke="none" stroke-width="0"/>
<circle cx="250.25" cy="283.5" r="1.45" fill="#000" stroke="none" stroke-width="0"/>
<text x="256.27" y="295.2" font-size="5.7" text-anchor="middle" fill="#6d9cd8" >8</text>
<line x1="256.27" y1="245" x2="256.27" y2="272.2" stroke="#111" stroke-width="0.9" />
<line x1="254.47" y1="245" x2="258.07" y2="245" stroke="#111" stroke-width="0.9" />
<line x1="254.47" y1="272.2" x2="258.07" y2="272.2" stroke="#111" stroke-width="0.9" />
<polygon points="257.07,244.01 258.72,246.99 255.42,246.99" fill="#000" stroke="none" stroke-width="0"/>
<polygon points="255.07,245.11 256.72,248.09 253.42,248.09" fill="#000" stroke="none" stroke-width="0"/>
<polygon points="255.67,257.21 257.32,260.19 254.02,260.19" fill="#000" stroke="none" stroke-width="0"/>
<polygon points="255.37,262.81 257.02,265.79 253.72,265.79" fill="#000" stroke="none" stroke-width="0"/>
<polygon points="257.37,267.12 259.02,270.09 255.72,270.09" fill="#000" stroke="none" stroke-width="0"/>
<polygon points="257.17,270.01 258.82,272.99 255.52,272.99" fill="#000" stroke="none" stroke-width="0"/>
<polygon points="255.27,285.21 256.92,288.19 253.62,288.19" fill="#000" stroke="none" stroke-width="0"/>
<text x="263.09" y="295.2" font-size="5.7" text-anchor="middle" fill="#6d9cd8" >9</text>
<line x1="263.09" y1="247.5" x2="263.09" y2="282.3" stroke="#111" stroke-width="0.9" />
<line x1="261.29" y1="247.5" x2="264.89" y2="247.5" stroke="#111" stroke-width="0.9" />
<line x1="261.29" y1="282.3" x2="264.89" y2="282.3" stroke="#111" stroke-width="0.9" />
<circle cx="262.89" cy="244.2" r="1.2" fill="none" stroke="#000" stroke-width="0.9"/>
<circle cx="263.39" cy="245.5" r="1.2" fill="none" stroke="#000" stroke-width="0.9"/>
<circle cx="263.19" cy="246.6" r="1.2" fill="none" stroke="#000" stroke-width="0.9"/>
<circle cx="263.89" cy="247.4" r="1.2" fill="none" stroke="#000" stroke-width="0.9"/>
<circle cx="261.89" cy="284.3" r="1.2" fill="none" stroke="#000" stroke-width="0.9"/>
<circle cx="262.49" cy="288.3" r="1.2" fill="none" stroke="#000" stroke-width="0.9"/>
<circle cx="262.19" cy="289.9" r="1.2" fill="none" stroke="#000" stroke-width="0.9"/>
<text x="269.91" y="295.2" font-size="5.7" text-anchor="middle" fill="#6d9cd8" >8</text>
<line x1="269.91" y1="252" x2="269.91" y2="266.6" stroke="#111" stroke-width="0.9" />
<line x1="268.11" y1="252" x2="271.71" y2="252" stroke="#111" stroke-width="0.9" />
<line x1="268.11" y1="266.6" x2="271.71" y2="266.6" stroke="#111" stroke-width="0.9" />
<polygon points="271.01,250.85 272.51,253.55 269.51,253.55" fill="#000" stroke="#000" stroke-width="0.5"/>
<polygon points="270.81,252.45 272.31,255.15 269.31,255.15" fill="#000" stroke="#000" stroke-width="0.5"/>
<polygon points="268.91,254.05 270.41,256.75 267.41,256.75" fill="#000" stroke="#000" stroke-width="0.5"/>
<polygon points="269.71,255.65 271.21,258.35 268.21,258.35" fill="#000" stroke="#000" stroke-width="0.5"/>
<polygon points="270.21,257.35 271.71,260.05 268.71,260.05" fill="#000" stroke="#000" stroke-width="0.5"/>
<polygon points="270.01,258.15 271.51,260.85 268.51,260.85" fill="#000" stroke="#000" stroke-width="0.5"/>
<polygon points="270.71,268.55 272.21,271.25 269.21,271.25" fill="#000" stroke="#000" stroke-width="0.5"/>
<line x1="290.3" y1="297.2" x2="290.3" y2="300" stroke="#0a0a0a" stroke-width="1" />
<text x="290.3" y="308.6" font-size="6.6" text-anchor="middle" stroke="#0a0a0a" >CMP</text>
<rect x="277.5" y="253.8" width="5.5" height="43.4" fill="#a4acd6" />
<rect x="284.32" y="254.1" width="5.5" height="43.1" fill="#2c4f93" />
<rect x="291.14" y="265.8" width="5.5" height="31.4" fill="#e9a89a" />
<rect x="297.96" y="253" width="5.5" height="44.2" fill="#c0102f" />
<text x="280.25" y="295.2" font-size="5.7" text-anchor="middle" fill="#6d9cd8" >8</text>
<line x1="280.25" y1="237.2" x2="280.25" y2="270.4" stroke="#111" stroke-width="0.9" />
<line x1="278.45" y1="237.2" x2="282.05" y2="237.2" stroke="#111" stroke-width="0.9" />
<line x1="278.45" y1="270.4" x2="282.05" y2="270.4" stroke="#111" stroke-width="0.9" />
<circle cx="279.35" cy="233.2" r="1.45" fill="#000" stroke="none" stroke-width="0"/>
<circle cx="281.35" cy="239.6" r="1.45" fill="#000" stroke="none" stroke-width="0"/>
<circle cx="281.15" cy="241.2" r="1.45" fill="#000" stroke="none" stroke-width="0"/>
<circle cx="279.25" cy="242" r="1.45" fill="#000" stroke="none" stroke-width="0"/>
<circle cx="280.05" cy="262.1" r="1.45" fill="#000" stroke="none" stroke-width="0"/>
<circle cx="280.55" cy="265.3" r="1.45" fill="#000" stroke="none" stroke-width="0"/>
<circle cx="280.35" cy="266.9" r="1.45" fill="#000" stroke="none" stroke-width="0"/>
<circle cx="281.05" cy="285.3" r="1.45" fill="#000" stroke="none" stroke-width="0"/>
<text x="287.07" y="295.2" font-size="5.7" text-anchor="middle" fill="#6d9cd8" >8</text>
<line x1="287.07" y1="235.6" x2="287.07" y2="272.6" stroke="#111" stroke-width="0.9" />
<line x1="285.27" y1="235.6" x2="288.87" y2="235.6" stroke="#111" stroke-width="0.9" />
<line x1="285.27" y1="272.6" x2="288.87" y2="272.6" stroke="#111" stroke-width="0.9" />
<polygon points="287.87,235.71 289.52,238.69 286.22,238.69" fill="#000" stroke="none" stroke-width="0"/>
<polygon points="285.87,239.71 287.52,242.69 284.22,242.69" fill="#000" stroke="none" stroke-width="0"/>
<polygon points="286.47,241.31 288.12,244.29 284.82,244.29" fill="#000" stroke="none" stroke-width="0"/>
<polygon points="286.17,242.11 287.82,245.09 284.52,245.09" fill="#000" stroke="none" stroke-width="0"/>
<polygon points="288.17,253.41 289.82,256.38 286.52,256.38" fill="#000" stroke="none" stroke-width="0"/>
<polygon points="287.97,271.81 289.62,274.79 286.32,274.79" fill="#000" stroke="none" stroke-width="0"/>
<polygon points="286.07,274.21 287.72,277.19 284.42,277.19" fill="#000" stroke="none" stroke-width="0"/>
<polygon points="286.87,289.41 288.52,292.38 285.22,292.38" fill="#000" stroke="none" stroke-width="0"/>
<text x="293.89" y="295.2" font-size="5.7" text-anchor="middle" fill="#6d9cd8" >8</text>
<line x1="293.89" y1="242" x2="293.89" y2="289.6" stroke="#111" stroke-width="0.9" />
<line x1="292.09" y1="242" x2="295.69" y2="242" stroke="#111" stroke-width="0.9" />
<line x1="292.09" y1="289.6" x2="295.69" y2="289.6" stroke="#111" stroke-width="0.9" />
<circle cx="293.69" cy="242" r="1.2" fill="none" stroke="#000" stroke-width="0.9"/>
<circle cx="294.19" cy="246" r="1.2" fill="none" stroke="#000" stroke-width="0.9"/>
<circle cx="293.99" cy="248.4" r="1.2" fill="none" stroke="#000" stroke-width="0.9"/>
<circle cx="294.69" cy="250.8" r="1.2" fill="none" stroke="#000" stroke-width="0.9"/>
<circle cx="292.69" cy="255.7" r="1.2" fill="none" stroke="#000" stroke-width="0.9"/>
<circle cx="293.29" cy="282.6" r="1.2" fill="none" stroke="#000" stroke-width="0.9"/>
<circle cx="292.99" cy="291.7" r="1.2" fill="none" stroke="#000" stroke-width="0.9"/>
<text x="300.71" y="295.2" font-size="5.7" text-anchor="middle" fill="#6d9cd8" >8</text>
<line x1="300.71" y1="250" x2="300.71" y2="256" stroke="#111" stroke-width="0.9" />
<line x1="298.91" y1="250" x2="302.51" y2="250" stroke="#111" stroke-width="0.9" />
<line x1="298.91" y1="256" x2="302.51" y2="256" stroke="#111" stroke-width="0.9" />
<polygon points="301.81,247.05 303.31,249.75 300.31,249.75" fill="#000" stroke="#000" stroke-width="0.5"/>
<polygon points="301.61,248.65 303.11,251.35 300.11,251.35" fill="#000" stroke="#000" stroke-width="0.5"/>
<polygon points="299.71,250.25 301.21,252.95 298.21,252.95" fill="#000" stroke="#000" stroke-width="0.5"/>
<polygon points="300.51,253.55 302.01,256.25 299.01,256.25" fill="#000" stroke="#000" stroke-width="0.5"/>
<polygon points="301.01,255.15 302.51,257.85 299.51,257.85" fill="#000" stroke="#000" stroke-width="0.5"/>
<polygon points="300.81,256.75 302.31,259.45 299.31,259.45" fill="#000" stroke="#000" stroke-width="0.5"/>
<polygon points="301.51,258.35 303.01,261.05 300.01,261.05" fill="#000" stroke="#000" stroke-width="0.5"/>
<line x1="321.4" y1="297.2" x2="321.4" y2="300" stroke="#0a0a0a" stroke-width="1" />
<text x="321.4" y="308.6" font-size="6.6" text-anchor="middle" stroke="#0a0a0a" >LK</text>
<rect x="308.6" y="266.6" width="5.5" height="30.6" fill="#a4acd6" />
<rect x="315.42" y="262.7" width="5.5" height="34.5" fill="#2c4f93" />
<rect x="322.24" y="285.9" width="5.5" height="11.3" fill="#e9a89a" />
<rect x="329.06" y="254.7" width="5.5" height="42.5" fill="#c0102f" />
<text x="311.35" y="295.2" font-size="5.7" text-anchor="middle" fill="#6d9cd8" >8</text>
<line x1="311.35" y1="245.2" x2="311.35" y2="288" stroke="#111" stroke-width="0.9" />
<line x1="309.55" y1="245.2" x2="313.15" y2="245.2" stroke="#111" stroke-width="0.9" />
<line x1="309.55" y1="288" x2="313.15" y2="288" stroke="#111" stroke-width="0.9" />
<circle cx="310.45" cy="228.4" r="1.45" fill="#000" stroke="none" stroke-width="0"/>
<circle cx="312.45" cy="238" r="1.45" fill="#000" stroke="none" stroke-width="0"/>
<circle cx="312.25" cy="245.2" r="1.45" fill="#000" stroke="none" stroke-width="0"/>
<circle cx="310.35" cy="254" r="1.45" fill="#000" stroke="none" stroke-width="0"/>
<circle cx="311.15" cy="265.3" r="1.45" fill="#000" stroke="none" stroke-width="0"/>
<circle cx="311.65" cy="268.5" r="1.45" fill="#000" stroke="none" stroke-width="0"/>
<circle cx="311.45" cy="273.3" r="1.45" fill="#000" stroke="none" stroke-width="0"/>
<circle cx="312.15" cy="276.5" r="1.45" fill="#000" stroke="none" stroke-width="0"/>
<circle cx="310.15" cy="286.9" r="1.45" fill="#000" stroke="none" stroke-width="0"/>
<circle cx="310.75" cy="287.7" r="1.45" fill="#000" stroke="none" stroke-width="0"/>
<text x="318.17" y="295.2" font-size="5.7" text-anchor="middle" fill="#6d9cd8" >8</text>
<line x1="318.17" y1="234.8" x2="318.17" y2="290.6" stroke="#111" stroke-width="0.9" />
<line x1="316.37" y1="234.8" x2="319.97" y2="234.8" stroke="#111" stroke-width="0.9" />
<line x1="316.37" y1="290.6" x2="319.97" y2="290.6" stroke="#111" stroke-width="0.9" />
<polygon points="318.97,232.51 320.62,235.49 317.32,235.49" fill="#000" stroke="none" stroke-width="0"/>
<polygon points="316.97,236.51 318.62,239.49 315.32,239.49" fill="#000" stroke="none" stroke-width="0"/>
<polygon points="317.57,238.91 319.22,241.89 315.92,241.89" fill="#000" stroke="none" stroke-width="0"/>
<polygon points="317.27,241.31 318.92,244.29 315.62,244.29" fill="#000" stroke="none" stroke-width="0"/>
<polygon points="319.27,242.91 320.92,245.89 317.62,245.89" fill="#000" stroke="none" stroke-width="0"/>
<polygon points="319.07,278.21 320.72,281.19 317.42,281.19" fill="#000" stroke="none" stroke-width="0"/>
<polygon points="317.17,280.62 318.82,283.59 315.52,283.59" fill="#000" stroke="none" stroke-width="0"/>
<polygon points="317.97,282.21 319.62,285.19 316.32,285.19" fill="#000" stroke="none" stroke-width="0"/>
<polygon points="318.47,285.41 320.12,288.38 316.82,288.38" fill="#000" stroke="none" stroke-width="0"/>
<text x="324.99" y="295.2" font-size="5.7" text-anchor="middle" fill="#6d9cd8" >9</text>
<line x1="324.99" y1="277.3" x2="324.99" y2="294.5" stroke="#111" stroke-width="0.9" />
<line x1="323.19" y1="277.3" x2="326.79" y2="277.3" stroke="#111" stroke-width="0.9" />
<line x1="323.19" y1="294.5" x2="326.79" y2="294.5" stroke="#111" stroke-width="0.9" />
<circle cx="324.79" cy="276.5" r="1.2" fill="none" stroke="#000" stroke-width="0.9"/>
<circle cx="325.29" cy="278.1" r="1.2" fill="none" stroke="#000" stroke-width="0.9"/>
<circle cx="325.09" cy="279.7" r="1.2" fill="none" stroke="#000" stroke-width="0.9"/>
<circle cx="325.79" cy="290.9" r="1.2" fill="none" stroke="#000" stroke-width="0.9"/>
<circle cx="323.79" cy="292.5" r="1.2" fill="none" stroke="#000" stroke-width="0.9"/>
<text x="331.81" y="295.2" font-size="5.7" text-anchor="middle" fill="#6d9cd8" >8</text>
<line x1="331.81" y1="242.8" x2="331.81" y2="266.6" stroke="#111" stroke-width="0.9" />
<line x1="330.01" y1="242.8" x2="333.61" y2="242.8" stroke="#111" stroke-width="0.9" />
<line x1="330.01" y1="266.6" x2="333.61" y2="266.6" stroke="#111" stroke-width="0.9" />
<polygon points="332.91,240.65 334.41,243.35 331.41,243.35" fill="#000" stroke="#000" stroke-width="0.5"/>
<polygon points="332.71,241.45 334.21,244.15 331.21,244.15" fill="#000" stroke="#000" stroke-width="0.5"/>
<polygon points="330.81,246.25 332.31,248.95 329.31,248.95" fill="#000" stroke="#000" stroke-width="0.5"/>
<polygon points="331.61,247.85 333.11,250.55 330.11,250.55" fill="#000" stroke="#000" stroke-width="0.5"/>
<polygon points="332.11,249.45 333.61,252.15 330.61,252.15" fill="#000" stroke="#000" stroke-width="0.5"/>
<polygon points="331.91,263.95 333.41,266.65 330.41,266.65" fill="#000" stroke="#000" stroke-width="0.5"/>
<polygon points="332.61,266.35 334.11,269.05 331.11,269.05" fill="#000" stroke="#000" stroke-width="0.5"/>
<polygon points="330.61,267.15 332.11,269.85 329.11,269.85" fill="#000" stroke="#000" stroke-width="0.5"/>
<polygon points="331.21,272.75 332.71,275.45 329.71,275.45" fill="#000" stroke="#000" stroke-width="0.5"/>
<line x1="379.4" y1="223.4" x2="379.4" y2="297.75" stroke="#0a0a0a" stroke-width="1.1" />
<line x1="378.85" y1="297.2" x2="504.4" y2="297.2" stroke="#0a0a0a" stroke-width="1.1" />
<line x1="376.1" y1="297.2" x2="379.4" y2="297.2" stroke="#0a0a0a" stroke-width="1" />
<text x="373.4" y="299.4" font-size="6.3" text-anchor="end" stroke="#0a0a0a" >0</text>
<line x1="376.1" y1="282.96" x2="379.4" y2="282.96" stroke="#0a0a0a" stroke-width="1" />
<text x="373.4" y="285.16" font-size="6.3" text-anchor="end" stroke="#0a0a0a" >20</text>
<line x1="376.1" y1="268.72" x2="379.4" y2="268.72" stroke="#0a0a0a" stroke-width="1" />
<text x="373.4" y="270.92" font-size="6.3" text-anchor="end" stroke="#0a0a0a" >40</text>
<line x1="376.1" y1="254.48" x2="379.4" y2="254.48" stroke="#0a0a0a" stroke-width="1" />
<text x="373.4" y="256.68" font-size="6.3" text-anchor="end" stroke="#0a0a0a" >60</text>
<line x1="376.1" y1="240.24" x2="379.4" y2="240.24" stroke="#0a0a0a" stroke-width="1" />
<text x="373.4" y="242.44" font-size="6.3" text-anchor="end" stroke="#0a0a0a" >80</text>
<line x1="376.1" y1="226" x2="379.4" y2="226" stroke="#0a0a0a" stroke-width="1" />
<text x="373.4" y="228.2" font-size="6.3" text-anchor="end" stroke="#0a0a0a" >100</text>
<text x="358.2" y="259.8" font-size="8.2" text-anchor="middle" textLength="53.2" lengthAdjust="spacingAndGlyphs" transform="rotate(-90 358.2 259.8)" >Donor percentage</text>
<line x1="395.6" y1="297.2" x2="395.6" y2="300" stroke="#0a0a0a" stroke-width="1" />
<text x="395.6" y="308.6" font-size="6.6" text-anchor="middle" stroke="#0a0a0a" >B220+</text>
<rect x="382.8" y="258.9" width="5.5" height="38.3" fill="#a4acd6" />
<rect x="389.62" y="267" width="5.5" height="30.2" fill="#2c4f93" />
<rect x="396.44" y="288.3" width="5.5" height="8.9" fill="#e9a89a" />
<rect x="403.26" y="271.8" width="5.5" height="25.4" fill="#c0102f" />
<text x="385.55" y="295.2" font-size="5.7" text-anchor="middle" fill="#6d9cd8" >9</text>
<line x1="385.55" y1="242.8" x2="385.55" y2="275" stroke="#111" stroke-width="0.9" />
<line x1="383.75" y1="242.8" x2="387.35" y2="242.8" stroke="#111" stroke-width="0.9" />
<line x1="383.75" y1="275" x2="387.35" y2="275" stroke="#111" stroke-width="0.9" />
<circle cx="384.65" cy="242.8" r="1.45" fill="#000" stroke="none" stroke-width="0"/>
<circle cx="386.65" cy="244.4" r="1.45" fill="#000" stroke="none" stroke-width="0"/>
<circle cx="386.45" cy="246" r="1.45" fill="#000" stroke="none" stroke-width="0"/>
<circle cx="384.55" cy="248.4" r="1.45" fill="#000" stroke="none" stroke-width="0"/>
<circle cx="385.35" cy="249.2" r="1.45" fill="#000" stroke="none" stroke-width="0"/>
<circle cx="385.85" cy="263.7" r="1.45" fill="#000" stroke="none" stroke-width="0"/>
<circle cx="385.65" cy="265.3" r="1.45" fill="#000" stroke="none" stroke-width="0"/>
<circle cx="386.35" cy="270.1" r="1.45" fill="#000" stroke="none" stroke-width="0"/>
<circle cx="384.35" cy="273.3" r="1.45" fill="#000" stroke="none" stroke-width="0"/>
<text x="392.37" y="295.2" font-size="5.7" text-anchor="middle" fill="#6d9cd8" >9</text>
<line x1="392.37" y1="246.8" x2="392.37" y2="287.2" stroke="#111" stroke-width="0.9" />
<line x1="390.57" y1="246.8" x2="394.17" y2="246.8" stroke="#111" stroke-width="0.9" />
<line x1="390.57" y1="287.2" x2="394.17" y2="287.2" stroke="#111" stroke-width="0.9" />
<polygon points="393.17,235.71 394.82,238.69 391.52,238.69" fill="#000" stroke="none" stroke-width="0"/>
<polygon points="391.17,239.71 392.82,242.69 389.52,242.69" fill="#000" stroke="none" stroke-width="0"/>
<polygon points="391.77,254.21 393.42,257.19 390.12,257.19" fill="#000" stroke="none" stroke-width="0"/>
<polygon points="391.47,257.41 393.12,260.38 389.82,260.38" fill="#000" stroke="none" stroke-width="0"/>
<polygon points="393.47,268.62 395.12,271.59 391.82,271.59" fill="#000" stroke="none" stroke-width="0"/>
<polygon points="393.27,271.81 394.92,274.79 391.62,274.79" fill="#000" stroke="none" stroke-width="0"/>
<polygon points="391.37,278.21 393.02,281.19 389.72,281.19" fill="#000" stroke="none" stroke-width="0"/>
<polygon points="392.17,283.01 393.82,285.99 390.52,285.99" fill="#000" stroke="none" stroke-width="0"/>
<text x="399.19" y="295.2" font-size="5.7" text-anchor="middle" fill="#6d9cd8" >7</text>
<line x1="399.19" y1="286" x2="399.19" y2="290.6" stroke="#111" stroke-width="0.9" />
<line x1="397.39" y1="286" x2="400.99" y2="286" stroke="#111" stroke-width="0.9" />
<line x1="397.39" y1="290.6" x2="400.99" y2="290.6" stroke="#111" stroke-width="0.9" />
<circle cx="398.99" cy="286.1" r="1.2" fill="none" stroke="#000" stroke-width="0.9"/>
<circle cx="399.49" cy="286.9" r="1.2" fill="none" stroke="#000" stroke-width="0.9"/>
<circle cx="399.29" cy="287.7" r="1.2" fill="none" stroke="#000" stroke-width="0.9"/>
<circle cx="399.99" cy="288.5" r="1.2" fill="none" stroke="#000" stroke-width="0.9"/>
<circle cx="397.99" cy="289.3" r="1.2" fill="none" stroke="#000" stroke-width="0.9"/>
<text x="406.01" y="295.2" font-size="5.7" text-anchor="middle" fill="#6d9cd8" >8</text>
<line x1="406.01" y1="258.9" x2="406.01" y2="284.7" stroke="#111" stroke-width="0.9" />
<line x1="404.21" y1="258.9" x2="407.81" y2="258.9" stroke="#111" stroke-width="0.9" />
<line x1="404.21" y1="284.7" x2="407.81" y2="284.7" stroke="#111" stroke-width="0.9" />
<polygon points="407.11,258.35 408.61,261.05 405.61,261.05" fill="#000" stroke="#000" stroke-width="0.5"/>
<polygon points="406.91,259.15 408.41,261.85 405.41,261.85" fill="#000" stroke="#000" stroke-width="0.5"/>
<polygon points="405.01,261.55 406.51,264.25 403.51,264.25" fill="#000" stroke="#000" stroke-width="0.5"/>
<polygon points="405.81,264.75 407.31,267.45 404.31,267.45" fill="#000" stroke="#000" stroke-width="0.5"/>
<polygon points="406.31,273.55 407.81,276.25 404.81,276.25" fill="#000" stroke="#000" stroke-width="0.5"/>
<polygon points="406.11,275.95 407.61,278.65 404.61,278.65" fill="#000" stroke="#000" stroke-width="0.5"/>
<polygon points="406.81,277.55 408.31,280.25 405.31,280.25" fill="#000" stroke="#000" stroke-width="0.5"/>
<polygon points="404.81,279.95 406.31,282.65 403.31,282.65" fill="#000" stroke="#000" stroke-width="0.5"/>
<line x1="426.1" y1="297.2" x2="426.1" y2="300" stroke="#0a0a0a" stroke-width="1" />
<text x="426.1" y="308.6" font-size="6.6" text-anchor="middle" stroke="#0a0a0a" >CD3+</text>
<rect x="413.3" y="265.8" width="5.5" height="31.4" fill="#a4acd6" />
<rect x="420.12" y="265.4" width="5.5" height="31.8" fill="#2c4f93" />
<rect x="426.94" y="279.1" width="5.5" height="18.1" fill="#e9a89a" />
<rect x="433.76" y="271.8" width="5.5" height="25.4" fill="#c0102f" />
<text x="416.05" y="295.2" font-size="5.7" text-anchor="middle" fill="#6d9cd8" >9</text>
<line x1="416.05" y1="254" x2="416.05" y2="277.6" stroke="#111" stroke-width="0.9" />
<line x1="414.25" y1="254" x2="417.85" y2="254" stroke="#111" stroke-width="0.9" />
<line x1="414.25" y1="277.6" x2="417.85" y2="277.6" stroke="#111" stroke-width="0.9" />
<circle cx="415.15" cy="240.4" r="1.45" fill="#000" stroke="none" stroke-width="0"/>
<circle cx="417.15" cy="258.9" r="1.45" fill="#000" stroke="none" stroke-width="0"/>
<circle cx="416.95" cy="260.5" r="1.45" fill="#000" stroke="none" stroke-width="0"/>
<circle cx="415.05" cy="262.1" r="1.45" fill="#000" stroke="none" stroke-width="0"/>
<circle cx="415.85" cy="267.7" r="1.45" fill="#000" stroke="none" stroke-width="0"/>
<circle cx="416.35" cy="273.3" r="1.45" fill="#000" stroke="none" stroke-width="0"/>
<circle cx="416.15" cy="274.9" r="1.45" fill="#000" stroke="none" stroke-width="0"/>
<circle cx="416.85" cy="277.3" r="1.45" fill="#000" stroke="none" stroke-width="0"/>
<circle cx="414.85" cy="286.1" r="1.45" fill="#000" stroke="none" stroke-width="0"/>
<text x="422.87" y="295.2" font-size="5.7" text-anchor="middle" fill="#6d9cd8" >9</text>
<line x1="422.87" y1="249.2" x2="422.87" y2="281.6" stroke="#111" stroke-width="0.9" />
<line x1="421.07" y1="249.2" x2="424.67" y2="249.2" stroke="#111" stroke-width="0.9" />
<line x1="421.07" y1="281.6" x2="424.67" y2="281.6" stroke="#111" stroke-width="0.9" />
<polygon points="423.67,235.71 425.32,238.69 422.02,238.69" fill="#000" stroke="none" stroke-width="0"/>
<polygon points="421.67,244.51 423.32,247.49 420.02,247.49" fill="#000" stroke="none" stroke-width="0"/>
<polygon points="422.27,247.71 423.92,250.69 420.62,250.69" fill="#000" stroke="none" stroke-width="0"/>
<polygon points="421.97,251.71 423.62,254.69 420.32,254.69" fill="#000" stroke="none" stroke-width="0"/>
<polygon points="423.97,259.01 425.62,261.99 422.32,261.99" fill="#000" stroke="none" stroke-width="0"/>
<polygon points="423.77,266.21 425.42,269.19 422.12,269.19" fill="#000" stroke="none" stroke-width="0"/>
<polygon points="421.87,268.62 423.52,271.59 420.22,271.59" fill="#000" stroke="none" stroke-width="0"/>
<polygon points="422.67,275.01 424.32,277.99 421.02,277.99" fill="#000" stroke="none" stroke-width="0"/>
<polygon points="423.17,282.21 424.82,285.19 421.52,285.19" fill="#000" stroke="none" stroke-width="0"/>
<text x="429.69" y="295.2" font-size="5.7" text-anchor="middle" fill="#6d9cd8" >7</text>
<line x1="429.69" y1="271.7" x2="429.69" y2="286.5" stroke="#111" stroke-width="0.9" />
<line x1="427.89" y1="271.7" x2="431.49" y2="271.7" stroke="#111" stroke-width="0.9" />
<line x1="427.89" y1="286.5" x2="431.49" y2="286.5" stroke="#111" stroke-width="0.9" />
<circle cx="429.49" cy="268.5" r="1.2" fill="none" stroke="#000" stroke-width="0.9"/>
<circle cx="429.99" cy="270.1" r="1.2" fill="none" stroke="#000" stroke-width="0.9"/>
<circle cx="429.79" cy="271.7" r="1.2" fill="none" stroke="#000" stroke-width="0.9"/>
<circle cx="430.49" cy="273.3" r="1.2" fill="none" stroke="#000" stroke-width="0.9"/>
<circle cx="428.49" cy="274.9" r="1.2" fill="none" stroke="#000" stroke-width="0.9"/>
<circle cx="429.09" cy="285.3" r="1.2" fill="none" stroke="#000" stroke-width="0.9"/>
<circle cx="428.79" cy="286.9" r="1.2" fill="none" stroke="#000" stroke-width="0.9"/>
<text x="436.51" y="295.2" font-size="5.7" text-anchor="middle" fill="#6d9cd8" >8</text>
<line x1="436.51" y1="266.9" x2="436.51" y2="276.7" stroke="#111" stroke-width="0.9" />
<line x1="434.71" y1="266.9" x2="438.31" y2="266.9" stroke="#111" stroke-width="0.9" />
<line x1="434.71" y1="276.7" x2="438.31" y2="276.7" stroke="#111" stroke-width="0.9" />
<polygon points="437.61,263.15 439.11,265.85 436.11,265.85" fill="#000" stroke="#000" stroke-width="0.5"/>
<polygon points="437.41,265.55 438.91,268.25 435.91,268.25" fill="#000" stroke="#000" stroke-width="0.5"/>
<polygon points="435.51,267.15 437.01,269.85 434.01,269.85" fill="#000" stroke="#000" stroke-width="0.5"/>
<polygon points="436.31,268.75 437.81,271.45 434.81,271.45" fill="#000" stroke="#000" stroke-width="0.5"/>
<polygon points="436.81,270.35 438.31,273.05 435.31,273.05" fill="#000" stroke="#000" stroke-width="0.5"/>
<polygon points="436.61,271.95 438.11,274.65 435.11,274.65" fill="#000" stroke="#000" stroke-width="0.5"/>
<polygon points="437.31,275.15 438.81,277.85 435.81,277.85" fill="#000" stroke="#000" stroke-width="0.5"/>
<polygon points="435.31,277.55 436.81,280.25 433.81,280.25" fill="#000" stroke="#000" stroke-width="0.5"/>
<line x1="456.8" y1="297.2" x2="456.8" y2="300" stroke="#0a0a0a" stroke-width="1" />
<text x="456.8" y="308.6" font-size="6.6" text-anchor="middle" stroke="#0a0a0a" >Mac-1+</text>
<rect x="444" y="267.8" width="5.5" height="29.4" fill="#a4acd6" />
<rect x="450.82" y="262.9" width="5.5" height="34.3" fill="#2c4f93" />
<rect x="457.64" y="285.4" width="5.5" height="11.8" fill="#e9a89a" />
<rect x="464.46" y="251.8" width="5.5" height="45.4" fill="#c0102f" />
<text x="446.75" y="295.2" font-size="5.7" text-anchor="middle" fill="#6d9cd8" >9</text>
<line x1="446.75" y1="245.7" x2="446.75" y2="289.9" stroke="#111" stroke-width="0.9" />
<line x1="444.95" y1="245.7" x2="448.55" y2="245.7" stroke="#111" stroke-width="0.9" />
<line x1="444.95" y1="289.9" x2="448.55" y2="289.9" stroke="#111" stroke-width="0.9" />
<circle cx="445.85" cy="228.4" r="1.45" fill="#000" stroke="none" stroke-width="0"/>
<circle cx="447.85" cy="236.4" r="1.45" fill="#000" stroke="none" stroke-width="0"/>
<circle cx="447.65" cy="263.7" r="1.45" fill="#000" stroke="none" stroke-width="0"/>
<circle cx="445.75" cy="268.5" r="1.45" fill="#000" stroke="none" stroke-width="0"/>
<circle cx="446.55" cy="272.5" r="1.45" fill="#000" stroke="none" stroke-width="0"/>
<circle cx="447.05" cy="276.5" r="1.45" fill="#000" stroke="none" stroke-width="0"/>
<circle cx="446.85" cy="286.1" r="1.45" fill="#000" stroke="none" stroke-width="0"/>
<circle cx="447.55" cy="287.7" r="1.45" fill="#000" stroke="none" stroke-width="0"/>
<circle cx="445.55" cy="288.5" r="1.45" fill="#000" stroke="none" stroke-width="0"/>
<text x="453.57" y="295.2" font-size="5.7" text-anchor="middle" fill="#6d9cd8" >9</text>
<line x1="453.57" y1="238.8" x2="453.57" y2="287" stroke="#111" stroke-width="0.9" />
<line x1="451.77" y1="238.8" x2="455.37" y2="238.8" stroke="#111" stroke-width="0.9" />
<line x1="451.77" y1="287" x2="455.37" y2="287" stroke="#111" stroke-width="0.9" />
<polygon points="454.37,229.31 456.02,232.29 452.72,232.29" fill="#000" stroke="none" stroke-width="0"/>
<polygon points="452.37,237.31 454.02,240.29 450.72,240.29" fill="#000" stroke="none" stroke-width="0"/>
<polygon points="452.97,238.91 454.62,241.89 451.32,241.89" fill="#000" stroke="none" stroke-width="0"/>
<polygon points="452.67,239.71 454.32,242.69 451.02,242.69" fill="#000" stroke="none" stroke-width="0"/>
<polygon points="454.67,275.81 456.32,278.79 453.02,278.79" fill="#000" stroke="none" stroke-width="0"/>
<polygon points="454.47,277.41 456.12,280.38 452.82,280.38" fill="#000" stroke="none" stroke-width="0"/>
<polygon points="452.57,279.01 454.22,281.99 450.92,281.99" fill="#000" stroke="none" stroke-width="0"/>
<polygon points="453.37,280.62 455.02,283.59 451.72,283.59" fill="#000" stroke="none" stroke-width="0"/>
<polygon points="453.87,282.21 455.52,285.19 452.22,285.19" fill="#000" stroke="none" stroke-width="0"/>
<text x="460.39" y="295.2" font-size="5.7" text-anchor="middle" fill="#6d9cd8" >7</text>
<line x1="460.39" y1="277.3" x2="460.39" y2="293.5" stroke="#111" stroke-width="0.9" />
<line x1="458.59" y1="277.3" x2="462.19" y2="277.3" stroke="#111" stroke-width="0.9" />
<line x1="458.59" y1="293.5" x2="462.19" y2="293.5" stroke="#111" stroke-width="0.9" />
<circle cx="460.19" cy="273.3" r="1.2" fill="none" stroke="#000" stroke-width="0.9"/>
<circle cx="460.69" cy="277.3" r="1.2" fill="none" stroke="#000" stroke-width="0.9"/>
<circle cx="460.49" cy="278.9" r="1.2" fill="none" stroke="#000" stroke-width="0.9"/>
<circle cx="461.19" cy="284.5" r="1.2" fill="none" stroke="#000" stroke-width="0.9"/>
<circle cx="459.19" cy="286.9" r="1.2" fill="none" stroke="#000" stroke-width="0.9"/>
<circle cx="459.79" cy="288.5" r="1.2" fill="none" stroke="#000" stroke-width="0.9"/>
<text x="467.21" y="295.2" font-size="5.7" text-anchor="middle" fill="#6d9cd8" >8</text>
<line x1="467.21" y1="243.6" x2="467.21" y2="260" stroke="#111" stroke-width="0.9" />
<line x1="465.41" y1="243.6" x2="469.01" y2="243.6" stroke="#111" stroke-width="0.9" />
<line x1="465.41" y1="260" x2="469.01" y2="260" stroke="#111" stroke-width="0.9" />
<polygon points="468.31,240.65 469.81,243.35 466.81,243.35" fill="#000" stroke="#000" stroke-width="0.5"/>
<polygon points="468.11,242.25 469.61,244.95 466.61,244.95" fill="#000" stroke="#000" stroke-width="0.5"/>
<polygon points="466.21,244.65 467.71,247.35 464.71,247.35" fill="#000" stroke="#000" stroke-width="0.5"/>
<polygon points="467.01,246.25 468.51,248.95 465.51,248.95" fill="#000" stroke="#000" stroke-width="0.5"/>
<polygon points="467.51,247.85 469.01,250.55 466.01,250.55" fill="#000" stroke="#000" stroke-width="0.5"/>
<polygon points="467.31,257.55 468.81,260.25 465.81,260.25" fill="#000" stroke="#000" stroke-width="0.5"/>
<polygon points="468.01,262.35 469.51,265.05 466.51,265.05" fill="#000" stroke="#000" stroke-width="0.5"/>
<polygon points="466.01,271.95 467.51,274.65 464.51,274.65" fill="#000" stroke="#000" stroke-width="0.5"/>
<line x1="487.3" y1="297.2" x2="487.3" y2="300" stroke="#0a0a0a" stroke-width="1" />
<text x="487.3" y="308.6" font-size="6.6" text-anchor="middle" stroke="#0a0a0a" >CD45+</text>
<rect x="474.5" y="267.8" width="5.5" height="29.4" fill="#a4acd6" />
<rect x="481.32" y="265.8" width="5.5" height="31.4" fill="#2c4f93" />
<rect x="488.14" y="288" width="5.5" height="9.2" fill="#e9a89a" />
<rect x="494.96" y="263.7" width="5.5" height="33.5" fill="#c0102f" />
<text x="477.25" y="295.2" font-size="5.7" text-anchor="middle" fill="#6d9cd8" >9</text>
<line x1="477.25" y1="253.2" x2="477.25" y2="282.4" stroke="#111" stroke-width="0.9" />
<line x1="475.45" y1="253.2" x2="479.05" y2="253.2" stroke="#111" stroke-width="0.9" />
<line x1="475.45" y1="282.4" x2="479.05" y2="282.4" stroke="#111" stroke-width="0.9" />
<circle cx="476.35" cy="242" r="1.45" fill="#000" stroke="none" stroke-width="0"/>
<circle cx="478.35" cy="251.6" r="1.45" fill="#000" stroke="none" stroke-width="0"/>
<circle cx="478.15" cy="254" r="1.45" fill="#000" stroke="none" stroke-width="0"/>
<circle cx="476.25" cy="263.7" r="1.45" fill="#000" stroke="none" stroke-width="0"/>
<circle cx="477.05" cy="265.3" r="1.45" fill="#000" stroke="none" stroke-width="0"/>
<circle cx="477.55" cy="270.1" r="1.45" fill="#000" stroke="none" stroke-width="0"/>
<circle cx="477.35" cy="277.3" r="1.45" fill="#000" stroke="none" stroke-width="0"/>
<circle cx="478.05" cy="278.9" r="1.45" fill="#000" stroke="none" stroke-width="0"/>
<circle cx="476.05" cy="286.1" r="1.45" fill="#000" stroke="none" stroke-width="0"/>
<text x="484.07" y="295.2" font-size="5.7" text-anchor="middle" fill="#6d9cd8" >9</text>
<line x1="484.07" y1="247.6" x2="484.07" y2="284" stroke="#111" stroke-width="0.9" />
<line x1="482.27" y1="247.6" x2="485.87" y2="247.6" stroke="#111" stroke-width="0.9" />
<line x1="482.27" y1="284" x2="485.87" y2="284" stroke="#111" stroke-width="0.9" />
<polygon points="484.87,238.91 486.52,241.89 483.22,241.89" fill="#000" stroke="none" stroke-width="0"/>
<polygon points="482.87,244.51 484.52,247.49 481.22,247.49" fill="#000" stroke="none" stroke-width="0"/>
<polygon points="483.47,246.11 485.12,249.09 481.82,249.09" fill="#000" stroke="none" stroke-width="0"/>
<polygon points="483.17,278.21 484.82,281.19 481.52,281.19" fill="#000" stroke="none" stroke-width="0"/>
<polygon points="485.17,281.41 486.82,284.38 483.52,284.38" fill="#000" stroke="none" stroke-width="0"/>
<polygon points="484.97,283.81 486.62,286.79 483.32,286.79" fill="#000" stroke="none" stroke-width="0"/>
<polygon points="483.07,285.41 484.72,288.38 481.42,288.38" fill="#000" stroke="none" stroke-width="0"/>
<text x="490.89" y="295.2" font-size="5.7" text-anchor="middle" fill="#6d9cd8" >7</text>
<line x1="490.89" y1="282.9" x2="490.89" y2="293.1" stroke="#111" stroke-width="0.9" />
<line x1="489.09" y1="282.9" x2="492.69" y2="282.9" stroke="#111" stroke-width="0.9" />
<line x1="489.09" y1="293.1" x2="492.69" y2="293.1" stroke="#111" stroke-width="0.9" />
<circle cx="490.69" cy="278.9" r="1.2" fill="none" stroke="#000" stroke-width="0.9"/>
<circle cx="491.19" cy="282.9" r="1.2" fill="none" stroke="#000" stroke-width="0.9"/>
<circle cx="490.99" cy="284.5" r="1.2" fill="none" stroke="#000" stroke-width="0.9"/>
<circle cx="491.69" cy="285.3" r="1.2" fill="none" stroke="#000" stroke-width="0.9"/>
<circle cx="489.69" cy="287.7" r="1.2" fill="none" stroke="#000" stroke-width="0.9"/>
<circle cx="490.29" cy="290.1" r="1.2" fill="none" stroke="#000" stroke-width="0.9"/>
<circle cx="489.99" cy="290.9" r="1.2" fill="none" stroke="#000" stroke-width="0.9"/>
<text x="497.71" y="295.2" font-size="5.7" text-anchor="middle" fill="#6d9cd8" >8</text>
<line x1="497.71" y1="253.2" x2="497.71" y2="274.2" stroke="#111" stroke-width="0.9" />
<line x1="495.91" y1="253.2" x2="499.51" y2="253.2" stroke="#111" stroke-width="0.9" />
<line x1="495.91" y1="274.2" x2="499.51" y2="274.2" stroke="#111" stroke-width="0.9" />
<polygon points="498.81,249.45 500.31,252.15 497.31,252.15" fill="#000" stroke="#000" stroke-width="0.5"/>
<polygon points="498.61,252.65 500.11,255.35 497.11,255.35" fill="#000" stroke="#000" stroke-width="0.5"/>
<polygon points="496.71,254.35 498.21,257.05 495.21,257.05" fill="#000" stroke="#000" stroke-width="0.5"/>
<polygon points="497.51,255.95 499.01,258.65 496.01,258.65" fill="#000" stroke="#000" stroke-width="0.5"/>
<polygon points="498.01,257.55 499.51,260.25 496.51,260.25" fill="#000" stroke="#000" stroke-width="0.5"/>
<polygon points="497.81,259.15 499.31,261.85 496.31,261.85" fill="#000" stroke="#000" stroke-width="0.5"/>
<polygon points="498.51,268.75 500.01,271.45 497.01,271.45" fill="#000" stroke="#000" stroke-width="0.5"/>
<polygon points="496.51,271.95 498.01,274.65 495.01,274.65" fill="#000" stroke="#000" stroke-width="0.5"/>
<polygon points="497.11,275.95 498.61,278.65 495.61,278.65" fill="#000" stroke="#000" stroke-width="0.5"/>
<text x="62.7" y="210.9" font-size="5.6" textLength="14.6" lengthAdjust="spacingAndGlyphs" font-style="italic" >0.012</text>
<line x1="61.9" y1="212.5" x2="78" y2="212.5" stroke="#222" stroke-width="1" />
<text x="55.5" y="218.2" font-size="5.6" textLength="17.2" lengthAdjust="spacingAndGlyphs" font-style="italic" >0.0039</text>
<line x1="55" y1="218.9" x2="70.4" y2="218.9" stroke="#222" stroke-width="1" />
<text x="56" y="225.8" font-size="5.6" textLength="9.8" lengthAdjust="spacingAndGlyphs" font-style="italic" >0.26</text>
<line x1="55.5" y1="227.1" x2="64.7" y2="227.1" stroke="#222" stroke-width="1" />
<text x="68" y="244.3" font-size="5.6" textLength="13.2" lengthAdjust="spacingAndGlyphs" font-style="italic" >0.021</text>
<line x1="69.6" y1="245.8" x2="77.3" y2="245.8" stroke="#222" stroke-width="1" />
<text x="92.7" y="209.8" font-size="5.6" textLength="10.8" lengthAdjust="spacingAndGlyphs" font-style="italic" >0.92</text>
<line x1="92" y1="211.2" x2="107.3" y2="211.2" stroke="#222" stroke-width="1" />
<text x="85.3" y="217" font-size="5.6" textLength="13.5" lengthAdjust="spacingAndGlyphs" font-style="italic" >0.065</text>
<line x1="84.7" y1="218.2" x2="100.4" y2="218.2" stroke="#222" stroke-width="1" />
<text x="85.3" y="224.8" font-size="5.6" textLength="9.7" lengthAdjust="spacingAndGlyphs" font-style="italic" >0.69</text>
<line x1="84.7" y1="225.8" x2="94.5" y2="225.8" stroke="#222" stroke-width="1" />
<text x="98" y="230.9" font-size="5.6" textLength="13.5" lengthAdjust="spacingAndGlyphs" font-style="italic" >0.013</text>
<line x1="98.8" y1="232.5" x2="107.3" y2="232.5" stroke="#222" stroke-width="1" />
<text x="123" y="209.8" font-size="5.6" textLength="10.5" lengthAdjust="spacingAndGlyphs" font-style="italic" >0.77</text>
<line x1="122.3" y1="211.2" x2="137.7" y2="211.2" stroke="#222" stroke-width="1" />
<text x="115.7" y="217" font-size="5.6" textLength="13.5" lengthAdjust="spacingAndGlyphs" font-style="italic" >0.011</text>
<line x1="115" y1="218.2" x2="130.5" y2="218.2" stroke="#222" stroke-width="1" />
<text x="115.7" y="224.8" font-size="5.6" textLength="10.1" lengthAdjust="spacingAndGlyphs" font-style="italic" >0.90</text>
<line x1="115" y1="226.3" x2="123" y2="226.3" stroke="#222" stroke-width="1" />
<text x="125.4" y="231.7" font-size="5.6" textLength="15.4" lengthAdjust="spacingAndGlyphs" font-style="italic" >8.7E-04</text>
<line x1="129.2" y1="232.3" x2="137" y2="232.3" stroke="#222" stroke-width="1" />
<text x="153" y="211.4" font-size="5.6" textLength="10.8" lengthAdjust="spacingAndGlyphs" font-style="italic" >0.74</text>
<line x1="152.3" y1="213" x2="167.7" y2="213" stroke="#222" stroke-width="1" />
<text x="145.4" y="219" font-size="5.6" textLength="16.9" lengthAdjust="spacingAndGlyphs" font-style="italic" >0.0042</text>
<line x1="144.6" y1="220.5" x2="160" y2="220.5" stroke="#222" stroke-width="1" />
<text x="145.4" y="226.8" font-size="5.6" textLength="10" lengthAdjust="spacingAndGlyphs" font-style="italic" >0.70</text>
<line x1="145.8" y1="228.5" x2="153" y2="228.5" stroke="#222" stroke-width="1" />
<text x="158" y="233" font-size="5.6" textLength="15.8" lengthAdjust="spacingAndGlyphs" font-style="italic" >0.0011</text>
<line x1="158.5" y1="234" x2="167.7" y2="234" stroke="#222" stroke-width="1" />
<text x="225" y="209" font-size="5.6" textLength="11" lengthAdjust="spacingAndGlyphs" font-style="italic" >0.50</text>
<line x1="224.6" y1="210.8" x2="239.2" y2="210.8" stroke="#222" stroke-width="1" />
<text x="217" y="216.6" font-size="5.6" textLength="14.5" lengthAdjust="spacingAndGlyphs" font-style="italic" >0.054</text>
<line x1="217" y1="217.4" x2="232.3" y2="217.4" stroke="#222" stroke-width="1" />
<text x="217" y="224.3" font-size="5.6" textLength="10.2" lengthAdjust="spacingAndGlyphs" font-style="italic" >0.65</text>
<line x1="217" y1="224.6" x2="227.7" y2="224.6" stroke="#222" stroke-width="1" />
<text x="227" y="230.5" font-size="5.6" textLength="17.6" lengthAdjust="spacingAndGlyphs" font-style="italic" >1.1E-04</text>
<line x1="231.5" y1="231.8" x2="238.5" y2="231.8" stroke="#222" stroke-width="1" />
<text x="255.9" y="215.8" font-size="5.6" textLength="10.4" lengthAdjust="spacingAndGlyphs" font-style="italic" >0.95</text>
<line x1="255.2" y1="217.3" x2="269.8" y2="217.3" stroke="#222" stroke-width="1" />
<text x="247.8" y="223.6" font-size="5.6" textLength="13.3" lengthAdjust="spacingAndGlyphs" font-style="italic" >0.041</text>
<line x1="247.8" y1="225.1" x2="262.5" y2="225.1" stroke="#222" stroke-width="1" />
<text x="248.3" y="231.4" font-size="5.6" textLength="9.9" lengthAdjust="spacingAndGlyphs" font-style="italic" >0.85</text>
<line x1="248.3" y1="232.9" x2="256.4" y2="232.9" stroke="#222" stroke-width="1" />
<text x="260.4" y="238" font-size="5.6" textLength="10.4" lengthAdjust="spacingAndGlyphs" font-style="italic" >0.47</text>
<line x1="261.6" y1="239.4" x2="270.3" y2="239.4" stroke="#222" stroke-width="1" />
<text x="287" y="212.7" font-size="5.6" textLength="11" lengthAdjust="spacingAndGlyphs" font-style="italic" >0.88</text>
<line x1="286.4" y1="214.7" x2="302" y2="214.7" stroke="#222" stroke-width="1" />
<text x="279.4" y="220.2" font-size="5.6" textLength="10.8" lengthAdjust="spacingAndGlyphs" font-style="italic" >0.25</text>
<line x1="279" y1="222.1" x2="294.5" y2="222.1" stroke="#222" stroke-width="1" />
<text x="279.4" y="228.3" font-size="5.6" textLength="10.8" lengthAdjust="spacingAndGlyphs" font-style="italic" >0.95</text>
<line x1="279" y1="229.8" x2="287.6" y2="229.8" stroke="#222" stroke-width="1" />
<text x="292" y="234" font-size="5.6" textLength="10.3" lengthAdjust="spacingAndGlyphs" font-style="italic" >0.15</text>
<line x1="292.8" y1="235.5" x2="300.6" y2="235.5" stroke="#222" stroke-width="1" />
<text x="317.9" y="209.8" font-size="5.6" textLength="10.3" lengthAdjust="spacingAndGlyphs" font-style="italic" >0.43</text>
<line x1="317" y1="211.2" x2="332.6" y2="211.2" stroke="#222" stroke-width="1" />
<text x="310" y="217.2" font-size="5.6" textLength="14" lengthAdjust="spacingAndGlyphs" font-style="italic" >0.044</text>
<line x1="309.5" y1="218.2" x2="324.8" y2="218.2" stroke="#222" stroke-width="1" />
<text x="310" y="224.5" font-size="5.6" textLength="9.6" lengthAdjust="spacingAndGlyphs" font-style="italic" >0.73</text>
<line x1="309.5" y1="226" x2="318.7" y2="226" stroke="#222" stroke-width="1" />
<text x="323" y="231.4" font-size="5.6" textLength="18.2" lengthAdjust="spacingAndGlyphs" font-style="italic" >6.7E-05</text>
<line x1="325.5" y1="232.8" x2="333.5" y2="232.8" stroke="#222" stroke-width="1" />
<text x="390.2" y="219.6" font-size="5.6" textLength="10.8" lengthAdjust="spacingAndGlyphs" font-style="italic" >0.56</text>
<line x1="389.7" y1="221.3" x2="406.1" y2="221.3" stroke="#222" stroke-width="1" />
<text x="383.6" y="227.1" font-size="5.6" textLength="19.1" lengthAdjust="spacingAndGlyphs" font-style="italic" >2.3E-05</text>
<line x1="383.6" y1="228.5" x2="399.2" y2="228.5" stroke="#222" stroke-width="1" />
<text x="384" y="234.5" font-size="5.6" textLength="10.4" lengthAdjust="spacingAndGlyphs" font-style="italic" >0.31</text>
<line x1="384.5" y1="236.3" x2="392.3" y2="236.3" stroke="#222" stroke-width="1" />
<text x="396.3" y="253.6" font-size="5.6" textLength="18.1" lengthAdjust="spacingAndGlyphs" font-style="italic" >6.7E-04</text>
<line x1="399.2" y1="255.4" x2="406.1" y2="255.4" stroke="#222" stroke-width="1" />
<text x="424.5" y="218.2" font-size="5.6" textLength="10.8" lengthAdjust="spacingAndGlyphs" font-style="italic" >0.28</text>
<line x1="423.7" y1="219.8" x2="438.7" y2="219.8" stroke="#222" stroke-width="1" />
<text x="416.5" y="225.8" font-size="5.6" textLength="13.7" lengthAdjust="spacingAndGlyphs" font-style="italic" >0.033</text>
<line x1="415.7" y1="227.3" x2="431.2" y2="227.3" stroke="#222" stroke-width="1" />
<text x="414" y="233.9" font-size="5.6" textLength="11.2" lengthAdjust="spacingAndGlyphs" font-style="italic" >0.92</text>
<line x1="415" y1="235.4" x2="423.7" y2="235.4" stroke="#222" stroke-width="1" />
<text x="426.2" y="260.2" font-size="5.6" textLength="13.8" lengthAdjust="spacingAndGlyphs" font-style="italic" >0.049</text>
<line x1="426.4" y1="261.5" x2="435.8" y2="261.5" stroke="#222" stroke-width="1" />
<text x="452.8" y="210.1" font-size="5.6" textLength="11.3" lengthAdjust="spacingAndGlyphs" font-style="italic" >0.25</text>
<line x1="451.4" y1="211.1" x2="467.6" y2="211.1" stroke="#222" stroke-width="1" />
<text x="445.4" y="216.5" font-size="5.6" textLength="13.5" lengthAdjust="spacingAndGlyphs" font-style="italic" >0.063</text>
<line x1="444.7" y1="218.2" x2="460.1" y2="218.2" stroke="#222" stroke-width="1" />
<text x="445.4" y="224.6" font-size="5.6" textLength="10.7" lengthAdjust="spacingAndGlyphs" font-style="italic" >0.69</text>
<line x1="445.4" y1="225.9" x2="453.4" y2="225.9" stroke="#222" stroke-width="1" />
<text x="456.1" y="235.9" font-size="5.6" textLength="18.1" lengthAdjust="spacingAndGlyphs" font-style="italic" >2.4E-05</text>
<line x1="462.9" y1="238" x2="471.6" y2="238" stroke="#222" stroke-width="1" />
<text x="484.3" y="217.2" font-size="5.6" textLength="10.5" lengthAdjust="spacingAndGlyphs" font-style="italic" >0.79</text>
<line x1="483.7" y1="219.2" x2="499.3" y2="219.2" stroke="#222" stroke-width="1" />
<text x="476.7" y="225.2" font-size="5.6" textLength="17.1" lengthAdjust="spacingAndGlyphs" font-style="italic" >0.0062</text>
<line x1="476.7" y1="226.7" x2="491.8" y2="226.7" stroke="#222" stroke-width="1" />
<text x="476.7" y="232.7" font-size="5.6" textLength="11.1" lengthAdjust="spacingAndGlyphs" font-style="italic" >0.83</text>
<line x1="477.7" y1="234.7" x2="485.8" y2="234.7" stroke="#222" stroke-width="1" />
<text x="487.8" y="238.8" font-size="5.6" textLength="18.8" lengthAdjust="spacingAndGlyphs" font-style="italic" >1.3E-04</text>
<line x1="490.8" y1="240.4" x2="498.9" y2="240.4" stroke="#222" stroke-width="1" />
<text x="55.5" y="344.5" font-size="8.8" textLength="66.5" lengthAdjust="spacingAndGlyphs" stroke="#0a0a0a" >Raptor/Rictor KO</text>
<line x1="50.2" y1="364.4" x2="50.2" y2="404.3" stroke="#0a0a0a" stroke-width="1.1" />
<line x1="50.2" y1="411.25" x2="50.2" y2="449.95" stroke="#0a0a0a" stroke-width="1.1" />
<line x1="49.65" y1="449.4" x2="127" y2="449.4" stroke="#0a0a0a" stroke-width="1.1" />
<line x1="47.2" y1="404.3" x2="51.7" y2="404.3" stroke="#0a0a0a" stroke-width="0.9" />
<line x1="47.2" y1="411.25" x2="51.7" y2="411.25" stroke="#0a0a0a" stroke-width="0.9" />
<line x1="47" y1="365.8" x2="50.2" y2="365.8" stroke="#0a0a0a" stroke-width="1" />
<text x="44" y="368" font-size="6.3" text-anchor="end" stroke="#0a0a0a" >20</text>
<line x1="47" y1="387.4" x2="50.2" y2="387.4" stroke="#0a0a0a" stroke-width="1" />
<text x="44" y="389.6" font-size="6.3" text-anchor="end" stroke="#0a0a0a" >10</text>
<line x1="47" y1="411.25" x2="50.2" y2="411.25" stroke="#0a0a0a" stroke-width="1" />
<text x="44" y="413.45" font-size="6.3" text-anchor="end" stroke="#0a0a0a" >2.0</text>
<line x1="47" y1="430.3" x2="50.2" y2="430.3" stroke="#0a0a0a" stroke-width="1" />
<text x="44" y="432.5" font-size="6.3" text-anchor="end" stroke="#0a0a0a" >1.0</text>
<line x1="47" y1="449.4" x2="50.2" y2="449.4" stroke="#0a0a0a" stroke-width="1" />
<text x="44" y="451.6" font-size="6.3" text-anchor="end" stroke="#0a0a0a" >0</text>
<text x="31.9" y="411.2" font-size="8.2" text-anchor="middle" textLength="63.2" lengthAdjust="spacingAndGlyphs" transform="rotate(-90 31.9 411.2)" >% of live cells (XE-02)</text>
<rect x="52.9" y="389" width="9.3" height="15.3" fill="#2f4b80" />
<rect x="52.9" y="411.25" width="9.3" height="38.15" fill="#2f4b80" />
<rect x="63" y="389.4" width="9.5" height="14.9" fill="#a6032b" />
<rect x="63" y="411.25" width="9.5" height="38.15" fill="#a6032b" />
<rect x="78.4" y="437.9" width="9.9" height="11.5" fill="#2f4b80" />
<rect x="88.7" y="437.2" width="9.7" height="12.2" fill="#a6032b" />
<rect x="104.4" y="440.6" width="9.7" height="8.8" fill="#2f4b80" />
<rect x="114.5" y="443" width="9.3" height="6.4" fill="#a6032b" />
<line x1="57.5" y1="377" x2="57.5" y2="401" stroke="#111" stroke-width="1.1" />
<line x1="55.2" y1="377" x2="59.8" y2="377" stroke="#111" stroke-width="1.1" />
<line x1="55.2" y1="401" x2="59.8" y2="401" stroke="#111" stroke-width="1.1" />
<line x1="67.7" y1="380.7" x2="67.7" y2="389.4" stroke="#111" stroke-width="1.1" />
<line x1="65.4" y1="380.7" x2="70" y2="380.7" stroke="#111" stroke-width="1.1" />
<line x1="65.4" y1="389.4" x2="70" y2="389.4" stroke="#111" stroke-width="1.1" />
<circle cx="57.4" cy="372" r="1.3" fill="#000" stroke="none" stroke-width="0"/>
<circle cx="54.8" cy="393" r="1.3" fill="#000" stroke="none" stroke-width="0"/>
<circle cx="58.2" cy="395.5" r="1.3" fill="#000" stroke="none" stroke-width="0"/>
<circle cx="60.4" cy="395.5" r="1.3" fill="#000" stroke="none" stroke-width="0"/>
<circle cx="68.1" cy="373.6" r="1.35" fill="none" stroke="#000" stroke-width="0.95"/>
<circle cx="68.1" cy="388.5" r="1.35" fill="none" stroke="#000" stroke-width="0.95"/>
<circle cx="67" cy="393" r="1.35" fill="none" stroke="#000" stroke-width="0.95"/>
<circle cx="69.5" cy="396" r="1.35" fill="none" stroke="#000" stroke-width="0.95"/>
<circle cx="66.5" cy="399" r="1.35" fill="none" stroke="#000" stroke-width="0.95"/>
<line x1="83.3" y1="433.4" x2="83.3" y2="442.4" stroke="#111" stroke-width="1.1" />
<line x1="81" y1="433.4" x2="85.6" y2="433.4" stroke="#111" stroke-width="1.1" />
<line x1="81" y1="442.4" x2="85.6" y2="442.4" stroke="#111" stroke-width="1.1" />
<line x1="93.5" y1="433.7" x2="93.5" y2="440.7" stroke="#111" stroke-width="1.1" />
<line x1="91.2" y1="433.7" x2="95.8" y2="433.7" stroke="#111" stroke-width="1.1" />
<line x1="91.2" y1="440.7" x2="95.8" y2="440.7" stroke="#111" stroke-width="1.1" />
<line x1="109.2" y1="437.3" x2="109.2" y2="443.9" stroke="#111" stroke-width="1.1" />
<line x1="106.9" y1="437.3" x2="111.5" y2="437.3" stroke="#111" stroke-width="1.1" />
<line x1="106.9" y1="443.9" x2="111.5" y2="443.9" stroke="#111" stroke-width="1.1" />
<line x1="119.1" y1="441" x2="119.1" y2="445" stroke="#111" stroke-width="1.1" />
<line x1="116.8" y1="441" x2="121.4" y2="441" stroke="#111" stroke-width="1.1" />
<line x1="116.8" y1="445" x2="121.4" y2="445" stroke="#111" stroke-width="1.1" />
<circle cx="83.5" cy="435" r="1.2" fill="#000" stroke="none" stroke-width="0"/>
<circle cx="81.8" cy="437.5" r="1.2" fill="#000" stroke="none" stroke-width="0"/>
<circle cx="84.8" cy="439" r="1.2" fill="#000" stroke="none" stroke-width="0"/>
<circle cx="83.2" cy="442.5" r="1.2" fill="#000" stroke="none" stroke-width="0"/>
<circle cx="93.5" cy="433.2" r="1.3" fill="none" stroke="#000" stroke-width="0.95"/>
<circle cx="91.5" cy="437" r="1.3" fill="none" stroke="#000" stroke-width="0.95"/>
<circle cx="95" cy="437.5" r="1.3" fill="none" stroke="#000" stroke-width="0.95"/>
<circle cx="92.5" cy="439.5" r="1.3" fill="none" stroke="#000" stroke-width="0.95"/>
<circle cx="95.2" cy="440" r="1.3" fill="none" stroke="#000" stroke-width="0.95"/>
<circle cx="108" cy="437.5" r="1.2" fill="#000" stroke="none" stroke-width="0"/>
<circle cx="110.5" cy="439.5" r="1.2" fill="#000" stroke="none" stroke-width="0"/>
<circle cx="109.2" cy="443" r="1.2" fill="#000" stroke="none" stroke-width="0"/>
<circle cx="108.5" cy="445.5" r="1.2" fill="#000" stroke="none" stroke-width="0"/>
<circle cx="118.7" cy="440.5" r="1.3" fill="none" stroke="#000" stroke-width="0.95"/>
<circle cx="117" cy="443" r="1.3" fill="none" stroke="#000" stroke-width="0.95"/>
<circle cx="120" cy="443.5" r="1.3" fill="none" stroke="#000" stroke-width="0.95"/>
<circle cx="121" cy="444.5" r="1.3" fill="none" stroke="#000" stroke-width="0.95"/>
<circle cx="118.3" cy="445.3" r="1.3" fill="none" stroke="#000" stroke-width="0.95"/>
<text x="62.7" y="461.2" font-size="6.6" text-anchor="middle" stroke="#0a0a0a" >LSK</text>
<line x1="62.7" y1="449.4" x2="62.7" y2="452" stroke="#0a0a0a" stroke-width="0.9" />
<text x="88.7" y="461.2" font-size="6.6" text-anchor="middle" stroke="#0a0a0a" >HSC</text>
<line x1="88.7" y1="449.4" x2="88.7" y2="452" stroke="#0a0a0a" stroke-width="0.9" />
<text x="114.1" y="461.2" font-size="6.6" text-anchor="middle" stroke="#0a0a0a" >MPP</text>
<line x1="114.1" y1="449.4" x2="114.1" y2="452" stroke="#0a0a0a" stroke-width="0.9" />
<text x="52.5" y="367.4" font-size="5.6" textLength="17.1" lengthAdjust="spacingAndGlyphs" font-style="italic" >p=0.91</text>
<line x1="59.2" y1="368.5" x2="64.7" y2="368.5" stroke="#222" stroke-width="1" />
<text x="80.2" y="423.8" font-size="5.6" textLength="16.6" lengthAdjust="spacingAndGlyphs" font-style="italic" >p=0.81</text>
<line x1="84.1" y1="425.7" x2="93.3" y2="425.7" stroke="#222" stroke-width="1" />
<text x="104.4" y="433" font-size="5.6" textLength="16.6" lengthAdjust="spacingAndGlyphs" font-style="italic" >p=0.37</text>
<line x1="108.3" y1="434.9" x2="116.4" y2="434.9" stroke="#222" stroke-width="1" />
<rect x="73.7" y="364.5" width="7.8" height="4" fill="#2f4b80" />
<text x="84.1" y="368.4" font-size="6" textLength="32" lengthAdjust="spacingAndGlyphs" >Control (n=4)</text>
<rect x="73.7" y="371.4" width="7.8" height="4" fill="#a6032b" />
<text x="84.1" y="375.2" font-size="6" textLength="26" lengthAdjust="spacingAndGlyphs" >DKO (n=5)</text>
<text x="167.8" y="343.4" font-size="8.8" textLength="66.2" lengthAdjust="spacingAndGlyphs" stroke="#0a0a0a" >Raptor/Rictor KO</text>
<line x1="168.1" y1="362.5" x2="168.1" y2="449.95" stroke="#0a0a0a" stroke-width="1.1" />
<line x1="167.55" y1="449.4" x2="253" y2="449.4" stroke="#0a0a0a" stroke-width="1.1" />
<line x1="164.9" y1="449.4" x2="168.1" y2="449.4" stroke="#0a0a0a" stroke-width="1" />
<text x="161.7" y="451.6" font-size="6.3" text-anchor="end" stroke="#0a0a0a" >0</text>
<line x1="164.9" y1="420.84" x2="168.1" y2="420.84" stroke="#0a0a0a" stroke-width="1" />
<text x="161.7" y="423.04" font-size="6.3" text-anchor="end" stroke="#0a0a0a" >20</text>
<line x1="164.9" y1="392.28" x2="168.1" y2="392.28" stroke="#0a0a0a" stroke-width="1" />
<text x="161.7" y="394.48" font-size="6.3" text-anchor="end" stroke="#0a0a0a" >40</text>
<line x1="164.9" y1="363.72" x2="168.1" y2="363.72" stroke="#0a0a0a" stroke-width="1" />
<text x="161.7" y="365.92" font-size="6.3" text-anchor="end" stroke="#0a0a0a" >60</text>
<text x="150.2" y="405.1" font-size="8" text-anchor="middle" textLength="25.6" lengthAdjust="spacingAndGlyphs" transform="rotate(-90 150.2 405.1)" >Ki67 + %</text>
<rect x="177.3" y="434.6" width="13.1" height="14.8" fill="#2f4b80" />
<rect x="192.5" y="436.3" width="13.4" height="13.1" fill="#a6032b" />
<rect x="215" y="392.3" width="13.1" height="57.1" fill="#2f4b80" />
<rect x="230.2" y="391.8" width="13.1" height="57.6" fill="#a6032b" />
<line x1="183.9" y1="430" x2="183.9" y2="439.2" stroke="#111" stroke-width="1.1" />
<line x1="180.5" y1="430" x2="187.3" y2="430" stroke="#111" stroke-width="1.1" />
<line x1="180.5" y1="439.2" x2="187.3" y2="439.2" stroke="#111" stroke-width="1.1" />
<line x1="199.2" y1="434.7" x2="199.2" y2="437.9" stroke="#111" stroke-width="1.1" />
<line x1="195.8" y1="434.7" x2="202.6" y2="434.7" stroke="#111" stroke-width="1.1" />
<line x1="195.8" y1="437.9" x2="202.6" y2="437.9" stroke="#111" stroke-width="1.1" />
<line x1="221.5" y1="383.8" x2="221.5" y2="400.8" stroke="#111" stroke-width="1.1" />
<line x1="218.1" y1="383.8" x2="224.9" y2="383.8" stroke="#111" stroke-width="1.1" />
<line x1="218.1" y1="400.8" x2="224.9" y2="400.8" stroke="#111" stroke-width="1.1" />
<line x1="236.7" y1="387.5" x2="236.7" y2="396.1" stroke="#111" stroke-width="1.1" />
<line x1="233.3" y1="387.5" x2="240.1" y2="387.5" stroke="#111" stroke-width="1.1" />
<line x1="233.3" y1="396.1" x2="240.1" y2="396.1" stroke="#111" stroke-width="1.1" />
<circle cx="184.2" cy="430.2" r="1.3" fill="#000" stroke="none" stroke-width="0"/>
<circle cx="184.5" cy="434" r="1.3" fill="#000" stroke="none" stroke-width="0"/>
<circle cx="184" cy="440.8" r="1.3" fill="#000" stroke="none" stroke-width="0"/>
<circle cx="199.5" cy="433.5" r="1.35" fill="none" stroke="#000" stroke-width="0.95"/>
<circle cx="196.5" cy="436" r="1.35" fill="none" stroke="#000" stroke-width="0.95"/>
<circle cx="201.5" cy="436.2" r="1.35" fill="none" stroke="#000" stroke-width="0.95"/>
<circle cx="203" cy="437" r="1.35" fill="none" stroke="#000" stroke-width="0.95"/>
<circle cx="221.8" cy="384.3" r="1.3" fill="#000" stroke="none" stroke-width="0"/>
<circle cx="221.8" cy="388.5" r="1.3" fill="#000" stroke="none" stroke-width="0"/>
<circle cx="221.8" cy="407.7" r="1.3" fill="#000" stroke="none" stroke-width="0"/>
<circle cx="236.7" cy="382.5" r="1.35" fill="none" stroke="#000" stroke-width="0.95"/>
<circle cx="236.5" cy="391.6" r="1.35" fill="none" stroke="#000" stroke-width="0.95"/>
<circle cx="236.7" cy="396.5" r="1.35" fill="none" stroke="#000" stroke-width="0.95"/>
<polygon points="236.5,388.06 238.1,390.94 234.9,390.94" fill="#000" stroke="none" stroke-width="0"/>
<text x="191.7" y="461.1" font-size="6.6" text-anchor="middle" stroke="#0a0a0a" >HSC</text>
<line x1="191.7" y1="449.4" x2="191.7" y2="452" stroke="#0a0a0a" stroke-width="0.9" />
<text x="229.1" y="461.1" font-size="6.6" text-anchor="middle" stroke="#0a0a0a" >WBM</text>
<line x1="229.1" y1="449.4" x2="229.1" y2="452" stroke="#0a0a0a" stroke-width="0.9" />
<text x="184.1" y="421.1" font-size="5.6" textLength="18.2" lengthAdjust="spacingAndGlyphs" font-style="italic" >p=0.52</text>
<line x1="184.7" y1="423.8" x2="199.5" y2="423.8" stroke="#222" stroke-width="1" />
<text x="221.3" y="373" font-size="5.6" textLength="18.4" lengthAdjust="spacingAndGlyphs" >p=0.95</text>
<line x1="221.3" y1="375.3" x2="237.6" y2="375.3" stroke="#222" stroke-width="1" />
<rect x="178.4" y="356.9" width="7.6" height="3.9" fill="#2f4b80" />
<text x="188.3" y="361.4" font-size="5.2" textLength="32.4" lengthAdjust="spacingAndGlyphs" >Control (n=3)</text>
<rect x="178.4" y="363.8" width="7.6" height="3.9" fill="#a6032b" />
<text x="188.3" y="368.1" font-size="5.2" textLength="26" lengthAdjust="spacingAndGlyphs" >DKO (n=4)</text>
<text x="286.5" y="342.4" font-size="8.8" textLength="87.7" lengthAdjust="spacingAndGlyphs" stroke="#0a0a0a" >Raptor/Rictor/Sel1l KO</text>
<line x1="296.9" y1="358.5" x2="296.9" y2="401.8" stroke="#0a0a0a" stroke-width="1.1" />
<line x1="296.9" y1="409.1" x2="296.9" y2="449.95" stroke="#0a0a0a" stroke-width="1.1" />
<line x1="296.35" y1="449.4" x2="378.2" y2="449.4" stroke="#0a0a0a" stroke-width="1.1" />
<line x1="293.5" y1="402" x2="298.5" y2="402" stroke="#0a0a0a" stroke-width="1" />
<line x1="293.5" y1="409.1" x2="298.5" y2="409.1" stroke="#0a0a0a" stroke-width="1" />
<line x1="293.7" y1="361.8" x2="296.9" y2="361.8" stroke="#0a0a0a" stroke-width="1" />
<text x="290.9" y="364" font-size="6.3" text-anchor="end" stroke="#0a0a0a" >10.0</text>
<line x1="293.7" y1="374.5" x2="296.9" y2="374.5" stroke="#0a0a0a" stroke-width="1" />
<text x="290.9" y="376.7" font-size="6.3" text-anchor="end" stroke="#0a0a0a" >7.5</text>
<line x1="293.7" y1="387" x2="296.9" y2="387" stroke="#0a0a0a" stroke-width="1" />
<text x="290.9" y="389.2" font-size="6.3" text-anchor="end" stroke="#0a0a0a" >5.0</text>
<line x1="293.7" y1="399.5" x2="296.9" y2="399.5" stroke="#0a0a0a" stroke-width="1" />
<text x="290.9" y="401.7" font-size="6.3" text-anchor="end" stroke="#0a0a0a" >2.5</text>
<line x1="293.7" y1="409.1" x2="296.9" y2="409.1" stroke="#0a0a0a" stroke-width="1" />
<text x="290.9" y="411.3" font-size="6.3" text-anchor="end" stroke="#0a0a0a" >2.0</text>
<line x1="293.7" y1="429.2" x2="296.9" y2="429.2" stroke="#0a0a0a" stroke-width="1" />
<text x="290.9" y="431.4" font-size="6.3" text-anchor="end" stroke="#0a0a0a" >1.0</text>
<line x1="293.7" y1="449.4" x2="296.9" y2="449.4" stroke="#0a0a0a" stroke-width="1" />
<text x="290.9" y="451.6" font-size="6.3" text-anchor="end" stroke="#0a0a0a" >0</text>
<text x="277.2" y="405.3" font-size="8.2" text-anchor="middle" textLength="64.4" lengthAdjust="spacingAndGlyphs" transform="rotate(-90 277.2 405.3)" >% of live cells (XE-02)</text>
<rect x="298.1" y="373.8" width="6.9" height="28" fill="#2f4b80" />
<rect x="298.1" y="409.1" width="6.9" height="40.3" fill="#2f4b80" />
<rect x="306.2" y="376.2" width="7" height="25.6" fill="#a6032b" />
<rect x="306.2" y="409.1" width="7" height="40.3" fill="#a6032b" />
<rect x="314.3" y="375.5" width="6.9" height="26.3" fill="#69a94a" />
<rect x="314.3" y="409.1" width="6.9" height="40.3" fill="#69a94a" />
<rect x="325.4" y="435.4" width="7" height="14" fill="#2f4b80" />
<rect x="333" y="440.3" width="7.2" height="9.1" fill="#a6032b" />
<rect x="340.9" y="435.4" width="7.4" height="14" fill="#69a94a" />
<rect x="352.1" y="437.1" width="6.8" height="12.3" fill="#2f4b80" />
<rect x="359.9" y="447.3" width="7" height="2.1" fill="#a6032b" />
<rect x="367.7" y="442.4" width="7" height="7" fill="#69a94a" />
<line x1="301.6" y1="367.8" x2="301.6" y2="379.8" stroke="#111" stroke-width="1.1" />
<line x1="300" y1="367.8" x2="303.2" y2="367.8" stroke="#111" stroke-width="1.1" />
<line x1="300" y1="379.8" x2="303.2" y2="379.8" stroke="#111" stroke-width="1.1" />
<line x1="309.7" y1="371.2" x2="309.7" y2="381.2" stroke="#111" stroke-width="1.1" />
<line x1="308.1" y1="371.2" x2="311.3" y2="371.2" stroke="#111" stroke-width="1.1" />
<line x1="308.1" y1="381.2" x2="311.3" y2="381.2" stroke="#111" stroke-width="1.1" />
<line x1="317.8" y1="371.5" x2="317.8" y2="379.5" stroke="#111" stroke-width="1.1" />
<line x1="316.2" y1="371.5" x2="319.4" y2="371.5" stroke="#111" stroke-width="1.1" />
<line x1="316.2" y1="379.5" x2="319.4" y2="379.5" stroke="#111" stroke-width="1.1" />
<circle cx="301.5" cy="366.5" r="1.2" fill="#000" stroke="none" stroke-width="0"/>
<circle cx="302.5" cy="370.5" r="1.2" fill="#000" stroke="none" stroke-width="0"/>
<circle cx="300.5" cy="377" r="1.2" fill="#000" stroke="none" stroke-width="0"/>
<circle cx="301.5" cy="382" r="1.2" fill="#000" stroke="none" stroke-width="0"/>
<circle cx="310" cy="368.5" r="1.3" fill="none" stroke="#000" stroke-width="0.95"/>
<circle cx="310.5" cy="373" r="1.3" fill="none" stroke="#000" stroke-width="0.95"/>
<circle cx="308.5" cy="380.5" r="1.3" fill="none" stroke="#000" stroke-width="0.95"/>
<circle cx="310.5" cy="383" r="1.3" fill="none" stroke="#000" stroke-width="0.95"/>
<circle cx="308.5" cy="384" r="1.3" fill="none" stroke="#000" stroke-width="0.95"/>
<polygon points="317.5,368.56 319.1,371.44 315.9,371.44" fill="#000" stroke="none" stroke-width="0"/>
<polygon points="318.5,371.06 320.1,373.94 316.9,373.94" fill="#000" stroke="none" stroke-width="0"/>
<polygon points="317,377.06 318.6,379.94 315.4,379.94" fill="#000" stroke="none" stroke-width="0"/>
<polygon points="318.8,378.56 320.4,381.44 317.2,381.44" fill="#000" stroke="none" stroke-width="0"/>
<line x1="328.9" y1="433.8" x2="328.9" y2="437" stroke="#111" stroke-width="1.1" />
<line x1="327.3" y1="433.8" x2="330.5" y2="433.8" stroke="#111" stroke-width="1.1" />
<line x1="327.3" y1="437" x2="330.5" y2="437" stroke="#111" stroke-width="1.1" />
<line x1="336.6" y1="437.7" x2="336.6" y2="442.9" stroke="#111" stroke-width="1.1" />
<line x1="335" y1="437.7" x2="338.2" y2="437.7" stroke="#111" stroke-width="1.1" />
<line x1="335" y1="442.9" x2="338.2" y2="442.9" stroke="#111" stroke-width="1.1" />
<line x1="344.6" y1="431.8" x2="344.6" y2="439" stroke="#111" stroke-width="1.1" />
<line x1="343" y1="431.8" x2="346.2" y2="431.8" stroke="#111" stroke-width="1.1" />
<line x1="343" y1="439" x2="346.2" y2="439" stroke="#111" stroke-width="1.1" />
<line x1="355.5" y1="431.6" x2="355.5" y2="442.6" stroke="#111" stroke-width="1.1" />
<line x1="353.9" y1="431.6" x2="357.1" y2="431.6" stroke="#111" stroke-width="1.1" />
<line x1="353.9" y1="442.6" x2="357.1" y2="442.6" stroke="#111" stroke-width="1.1" />
<line x1="363.4" y1="445.6" x2="363.4" y2="448.8" stroke="#111" stroke-width="1.1" />
<line x1="361.8" y1="445.6" x2="365" y2="445.6" stroke="#111" stroke-width="1.1" />
<line x1="361.8" y1="448.8" x2="365" y2="448.8" stroke="#111" stroke-width="1.1" />
<line x1="371.2" y1="438.2" x2="371.2" y2="446.6" stroke="#111" stroke-width="1.1" />
<line x1="369.6" y1="438.2" x2="372.8" y2="438.2" stroke="#111" stroke-width="1.1" />
<line x1="369.6" y1="446.6" x2="372.8" y2="446.6" stroke="#111" stroke-width="1.1" />
<circle cx="328.5" cy="434.5" r="1.2" fill="#000" stroke="none" stroke-width="0"/>
<circle cx="330.2" cy="436" r="1.2" fill="#000" stroke="none" stroke-width="0"/>
<circle cx="327.8" cy="437.2" r="1.2" fill="#000" stroke="none" stroke-width="0"/>
<circle cx="337" cy="437.5" r="1.3" fill="none" stroke="#000" stroke-width="0.95"/>
<circle cx="335.5" cy="440" r="1.3" fill="none" stroke="#000" stroke-width="0.95"/>
<circle cx="338" cy="441.5" r="1.3" fill="none" stroke="#000" stroke-width="0.95"/>
<circle cx="336.5" cy="443.2" r="1.3" fill="none" stroke="#000" stroke-width="0.95"/>
<polygon points="344.5,430.56 346.1,433.44 342.9,433.44" fill="#000" stroke="none" stroke-width="0"/>
<polygon points="343.2,434.56 344.8,437.44 341.6,437.44" fill="#000" stroke="none" stroke-width="0"/>
<polygon points="346,435.06 347.6,437.94 344.4,437.94" fill="#000" stroke="none" stroke-width="0"/>
<polygon points="344.8,436.56 346.4,439.44 343.2,439.44" fill="#000" stroke="none" stroke-width="0"/>
<circle cx="355" cy="432.5" r="1.2" fill="#000" stroke="none" stroke-width="0"/>
<circle cx="356.5" cy="437" r="1.2" fill="#000" stroke="none" stroke-width="0"/>
<circle cx="354.5" cy="440.5" r="1.2" fill="#000" stroke="none" stroke-width="0"/>
<circle cx="355.8" cy="444" r="1.2" fill="#000" stroke="none" stroke-width="0"/>
<circle cx="362" cy="445.5" r="1.3" fill="none" stroke="#000" stroke-width="0.95"/>
<circle cx="364.5" cy="446.5" r="1.3" fill="none" stroke="#000" stroke-width="0.95"/>
<circle cx="363.5" cy="448" r="1.3" fill="none" stroke="#000" stroke-width="0.95"/>
<polygon points="371.5,435.61 373.05,438.39 369.95,438.39" fill="#000" stroke="none" stroke-width="0"/>
<polygon points="370,441.11 371.55,443.89 368.45,443.89" fill="#000" stroke="none" stroke-width="0"/>
<polygon points="372.5,443.11 374.05,445.89 370.95,445.89" fill="#000" stroke="none" stroke-width="0"/>
<polygon points="371,445.11 372.55,447.89 369.45,447.89" fill="#000" stroke="none" stroke-width="0"/>
<text x="309.8" y="461.1" font-size="6.6" text-anchor="middle" stroke="#0a0a0a" >LSK</text>
<line x1="309.8" y1="449.4" x2="309.8" y2="452" stroke="#0a0a0a" stroke-width="0.9" />
<text x="336.6" y="461.1" font-size="6.6" text-anchor="middle" stroke="#0a0a0a" >HSC</text>
<line x1="336.6" y1="449.4" x2="336.6" y2="452" stroke="#0a0a0a" stroke-width="0.9" />
<text x="363.1" y="461.1" font-size="6.6" text-anchor="middle" stroke="#0a0a0a" >MPP</text>
<line x1="363.1" y1="449.4" x2="363.1" y2="452" stroke="#0a0a0a" stroke-width="0.9" />
<text x="306.2" y="352.8" font-size="5.6" textLength="17.3" lengthAdjust="spacingAndGlyphs" font-style="italic" >p=0.88</text>
<line x1="310.1" y1="354.2" x2="317.5" y2="354.2" stroke="#222" stroke-width="1" />
<text x="298" y="359.7" font-size="5.6" textLength="16.2" lengthAdjust="spacingAndGlyphs" font-style="italic" >p=0.66</text>
<line x1="302.4" y1="362.3" x2="309.5" y2="362.3" stroke="#222" stroke-width="1" />
<text x="333.5" y="416.9" font-size="5.6" textLength="20.7" lengthAdjust="spacingAndGlyphs" font-style="italic" >p=0.013</text>
<line x1="337.3" y1="419.1" x2="345.1" y2="419.1" stroke="#222" stroke-width="1" />
<text x="324.6" y="426.8" font-size="5.6" textLength="22" lengthAdjust="spacingAndGlyphs" font-style="italic" >p=0.0051</text>
<line x1="328.2" y1="428.7" x2="337.3" y2="428.7" stroke="#222" stroke-width="1" />
<text x="357.2" y="413.7" font-size="5.6" textLength="20.7" lengthAdjust="spacingAndGlyphs" font-style="italic" >p=0.084</text>
<line x1="363.1" y1="414.9" x2="374.7" y2="414.9" stroke="#222" stroke-width="1" />
<text x="351.4" y="422.2" font-size="5.6" textLength="23.3" lengthAdjust="spacingAndGlyphs" font-style="italic" >p=0.0129</text>
<line x1="355.7" y1="424.4" x2="363.1" y2="424.4" stroke="#222" stroke-width="1" />
<rect x="326.5" y="357.3" width="8" height="3.6" fill="#2f4b80" />
<text x="337.3" y="360.8" font-size="5.2" textLength="30.7" lengthAdjust="spacingAndGlyphs" >Control (n=5)</text>
<rect x="326.5" y="364.4" width="8" height="3.6" fill="#a6032b" />
<text x="337.3" y="368.1" font-size="5.2" textLength="35.3" lengthAdjust="spacingAndGlyphs" >Sel1l KO (n=5)</text>
<rect x="326.5" y="371.9" width="8" height="3.6" fill="#69a94a" />
<text x="337.3" y="375.6" font-size="5.2" textLength="24.2" lengthAdjust="spacingAndGlyphs" >TKO (n=5)</text>
<text x="418.75" y="344.4" font-size="8.8" textLength="87.5" lengthAdjust="spacingAndGlyphs" stroke="#0a0a0a" >Raptor/Rictor/Sel1l KO</text>
<line x1="418.3" y1="358.9" x2="418.3" y2="449.95" stroke="#0a0a0a" stroke-width="1.2" />
<line x1="417.75" y1="449.4" x2="506.2" y2="449.4" stroke="#0a0a0a" stroke-width="1.1" />
<line x1="415.1" y1="449.4" x2="418.3" y2="449.4" stroke="#0a0a0a" stroke-width="1" />
<text x="412.1" y="451.6" font-size="6.3" text-anchor="end" stroke="#0a0a0a" >0</text>
<line x1="415.1" y1="427.4" x2="418.3" y2="427.4" stroke="#0a0a0a" stroke-width="1" />
<text x="412.1" y="429.6" font-size="6.3" text-anchor="end" stroke="#0a0a0a" >20</text>
<line x1="415.1" y1="405.4" x2="418.3" y2="405.4" stroke="#0a0a0a" stroke-width="1" />
<text x="412.1" y="407.6" font-size="6.3" text-anchor="end" stroke="#0a0a0a" >40</text>
<line x1="415.1" y1="383.4" x2="418.3" y2="383.4" stroke="#0a0a0a" stroke-width="1" />
<text x="412.1" y="385.6" font-size="6.3" text-anchor="end" stroke="#0a0a0a" >60</text>
<line x1="415.1" y1="361.4" x2="418.3" y2="361.4" stroke="#0a0a0a" stroke-width="1" />
<text x="412.1" y="363.6" font-size="6.3" text-anchor="end" stroke="#0a0a0a" >80</text>
<text x="400.8" y="403.8" font-size="8.2" text-anchor="middle" textLength="27.2" lengthAdjust="spacingAndGlyphs" transform="rotate(-90 400.8 403.8)" >Ki67 + %</text>
<rect x="425.5" y="435" width="10" height="14.4" fill="#2f4b80" />
<rect x="437" y="404.5" width="10.5" height="44.9" fill="#a6032b" />
<rect x="448.75" y="428.75" width="10.5" height="20.65" fill="#69a94a" />
<rect x="465.5" y="417.5" width="10" height="31.9" fill="#2f4b80" />
<rect x="477" y="406.25" width="10.5" height="43.15" fill="#a6032b" />
<rect x="488.75" y="413.75" width="10.5" height="35.65" fill="#69a94a" />
<line x1="430.5" y1="431" x2="430.5" y2="439" stroke="#111" stroke-width="1.1" />
<line x1="428.2" y1="431" x2="432.8" y2="431" stroke="#111" stroke-width="1.1" />
<line x1="428.2" y1="439" x2="432.8" y2="439" stroke="#111" stroke-width="1.1" />
<line x1="442.2" y1="395" x2="442.2" y2="414" stroke="#111" stroke-width="1.1" />
<line x1="439.9" y1="395" x2="444.5" y2="395" stroke="#111" stroke-width="1.1" />
<line x1="439.9" y1="414" x2="444.5" y2="414" stroke="#111" stroke-width="1.1" />
<line x1="454" y1="426.75" x2="454" y2="430.75" stroke="#111" stroke-width="1.1" />
<line x1="451.7" y1="426.75" x2="456.3" y2="426.75" stroke="#111" stroke-width="1.1" />
<line x1="451.7" y1="430.75" x2="456.3" y2="430.75" stroke="#111" stroke-width="1.1" />
<line x1="470.5" y1="414" x2="470.5" y2="421" stroke="#111" stroke-width="1.1" />
<line x1="468.2" y1="414" x2="472.8" y2="414" stroke="#111" stroke-width="1.1" />
<line x1="468.2" y1="421" x2="472.8" y2="421" stroke="#111" stroke-width="1.1" />
<line x1="482.2" y1="398.25" x2="482.2" y2="414.25" stroke="#111" stroke-width="1.1" />
<line x1="479.9" y1="398.25" x2="484.5" y2="398.25" stroke="#111" stroke-width="1.1" />
<line x1="479.9" y1="414.25" x2="484.5" y2="414.25" stroke="#111" stroke-width="1.1" />
<line x1="494" y1="407.55" x2="494" y2="419.95" stroke="#111" stroke-width="1.1" />
<line x1="491.7" y1="407.55" x2="496.3" y2="407.55" stroke="#111" stroke-width="1.1" />
<line x1="491.7" y1="419.95" x2="496.3" y2="419.95" stroke="#111" stroke-width="1.1" />
<circle cx="428.5" cy="432.5" r="1.2" fill="#000" stroke="none" stroke-width="0"/>
<circle cx="431.5" cy="431.8" r="1.2" fill="#000" stroke="none" stroke-width="0"/>
<circle cx="430.2" cy="445" r="1.2" fill="#000" stroke="none" stroke-width="0"/>
<circle cx="442.2" cy="388.5" r="1.35" fill="none" stroke="#000" stroke-width="0.95"/>
<circle cx="442.5" cy="404.5" r="1.35" fill="none" stroke="#000" stroke-width="0.95"/>
<circle cx="442.2" cy="430.2" r="1.35" fill="none" stroke="#000" stroke-width="0.95"/>
<polygon points="451.5,426.06 453.1,428.94 449.9,428.94" fill="#000" stroke="none" stroke-width="0"/>
<polygon points="454,424.56 455.6,427.44 452.4,427.44" fill="#000" stroke="none" stroke-width="0"/>
<polygon points="456.5,426.06 458.1,428.94 454.9,428.94" fill="#000" stroke="none" stroke-width="0"/>
<polygon points="454,428.56 455.6,431.44 452.4,431.44" fill="#000" stroke="none" stroke-width="0"/>
<circle cx="469.5" cy="412.5" r="1.2" fill="#000" stroke="none" stroke-width="0"/>
<circle cx="471.5" cy="414.5" r="1.2" fill="#000" stroke="none" stroke-width="0"/>
<circle cx="470" cy="421.5" r="1.2" fill="#000" stroke="none" stroke-width="0"/>
<circle cx="469.8" cy="426.2" r="1.2" fill="#000" stroke="none" stroke-width="0"/>
<circle cx="480.5" cy="392.2" r="1.35" fill="none" stroke="#000" stroke-width="0.95"/>
<circle cx="483.5" cy="392.2" r="1.35" fill="none" stroke="#000" stroke-width="0.95"/>
<circle cx="482.5" cy="414.3" r="1.35" fill="none" stroke="#000" stroke-width="0.95"/>
<circle cx="482.2" cy="424.2" r="1.35" fill="none" stroke="#000" stroke-width="0.95"/>
<polygon points="494.5,394.06 496.1,396.94 492.9,396.94" fill="#000" stroke="none" stroke-width="0"/>
<polygon points="492.5,413.56 494.1,416.44 490.9,416.44" fill="#000" stroke="none" stroke-width="0"/>
<polygon points="495,415.56 496.6,418.44 493.4,418.44" fill="#000" stroke="none" stroke-width="0"/>
<polygon points="494,425.56 495.6,428.44 492.4,428.44" fill="#000" stroke="none" stroke-width="0"/>
<text x="442.2" y="461.1" font-size="6.6" text-anchor="middle" stroke="#0a0a0a" >HSC</text>
<line x1="442.2" y1="449.4" x2="442.2" y2="452" stroke="#0a0a0a" stroke-width="0.9" />
<text x="482.3" y="461.1" font-size="6.6" text-anchor="middle" stroke="#0a0a0a" >WBM</text>
<line x1="482.3" y1="449.4" x2="482.3" y2="452" stroke="#0a0a0a" stroke-width="0.9" />
<text x="437" y="375.75" font-size="5.6" textLength="20.5" lengthAdjust="spacingAndGlyphs" font-style="italic" >p=0.041</text>
<line x1="442" y1="376.25" x2="455" y2="376.25" stroke="#222" stroke-width="1" />
<text x="424.5" y="384" font-size="5.6" textLength="20.5" lengthAdjust="spacingAndGlyphs" font-style="italic" >p=0.024</text>
<line x1="429.5" y1="384.5" x2="442" y2="384.5" stroke="#222" stroke-width="1" />
<text x="478.75" y="379" font-size="5.6" textLength="17.5" lengthAdjust="spacingAndGlyphs" font-style="italic" >p=0.51</text>
<line x1="481.25" y1="380" x2="493.75" y2="380" stroke="#222" stroke-width="1" />
<text x="468" y="385" font-size="5.6" textLength="17" lengthAdjust="spacingAndGlyphs" font-style="italic" >p=0.25</text>
<line x1="470" y1="388" x2="481.25" y2="388" stroke="#222" stroke-width="1" />
<rect x="405.3" y="353.4" width="7.8" height="3.1" fill="#2f4b80" />
<text x="415.5" y="356.4" font-size="5.2" textLength="32.5" lengthAdjust="spacingAndGlyphs" >Control (n=4)</text>
<rect x="462" y="353.4" width="8" height="3.1" fill="#a6032b" />
<text x="472.5" y="356.4" font-size="5.2" textLength="35" lengthAdjust="spacingAndGlyphs" >Sel1l KO (n=4)</text>
<rect x="462" y="360.6" width="8" height="3.1" fill="#69a94a" />
<text x="472.5" y="363.9" font-size="5.2" textLength="24.5" lengthAdjust="spacingAndGlyphs" >TKO (n=4)</text>
</svg>
</body></html>
